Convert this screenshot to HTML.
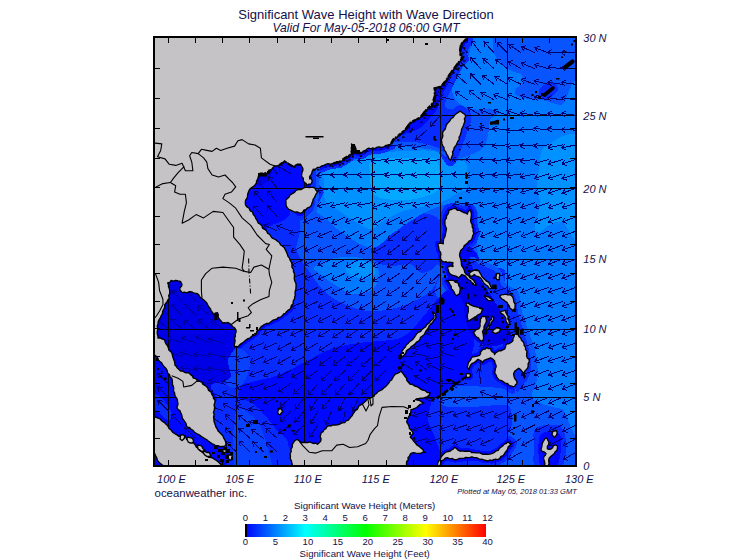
<!DOCTYPE html><html><head><meta charset="utf-8"><title>Significant Wave Height</title><style>html,body{margin:0;padding:0;background:#fff}
#w{position:relative;width:755px;height:560px;overflow:hidden;background:#fff;font-family:"Liberation Sans",sans-serif;color:#14104a}
.t{position:absolute;white-space:nowrap;line-height:1}
.c{transform:translateX(-50%)}
.i{font-style:italic}
</style></head><body><div id="w"><svg width="755" height="560" viewBox="0 0 755 560" style="position:absolute;left:0;top:0"><defs><clipPath id="mc"><rect x="153" y="36" width="424" height="431"/></clipPath><linearGradient id="cb" x1="0" x2="1" y1="0" y2="0"><stop offset="0" stop-color="#0000ff"/><stop offset="0.25" stop-color="#00ffff"/><stop offset="0.5" stop-color="#00ff00"/><stop offset="0.75" stop-color="#ffff00"/><stop offset="1" stop-color="#ff0000"/></linearGradient></defs><g clip-path="url(#mc)"><rect x="153" y="36" width="424" height="431" fill="#082cff"/><g shape-rendering="crispEdges"><path d="M150.0,30.0C221.7,3.3 508.3,-43.3 580.0,30.0C651.7,103.3 592.5,396.7 580.0,470.0C567.5,543.3 517.5,475.0 505.0,470.0C492.5,465.0 503.8,447.5 505.0,440.0C506.2,432.5 511.2,430.3 512.0,425.0C512.8,419.7 512.0,411.3 510.0,408.0C508.0,404.7 506.7,405.2 500.0,405.0C493.3,404.8 479.7,407.0 470.0,407.0C460.3,407.0 446.7,408.2 442.0,405.0C437.3,401.8 438.2,391.2 442.0,388.0C445.8,384.8 455.3,386.0 465.0,386.0C474.7,386.0 491.7,387.3 500.0,388.0C508.3,388.7 513.3,399.7 515.0,390.0C516.7,380.3 522.5,345.0 510.0,330.0C497.5,315.0 451.7,309.2 440.0,300.0C428.3,290.8 441.7,276.3 440.0,275.0C438.3,273.7 435.8,287.0 430.0,292.0C424.2,297.0 412.5,302.0 405.0,305.0C397.5,308.0 390.5,308.9 385.0,310.0C379.5,311.1 376.5,311.6 372.0,311.4C367.5,311.2 363.4,310.6 358.0,309.0C352.6,307.4 345.4,305.1 339.6,302.0C333.8,298.9 328.4,295.5 323.4,290.5C318.4,285.5 313.4,277.4 309.5,272.0C305.6,266.6 302.8,263.4 300.0,258.0C297.2,252.6 295.7,246.1 293.0,239.5C290.3,232.9 286.2,222.8 284.0,218.6C281.8,214.3 285.7,214.6 280.0,214.0C274.3,213.4 256.7,219.0 250.0,215.0C243.3,211.0 256.7,194.2 240.0,190.0C223.3,185.8 165.0,216.7 150.0,190.0C135.0,163.3 78.3,56.7 150.0,30.0Z" fill="#0854ff"/><path d="M372.0,244.0C373.3,239.3 377.8,235.7 382.0,232.0C386.2,228.3 391.5,224.8 397.0,222.0C402.5,219.2 409.8,216.3 415.0,215.0C420.2,213.7 423.8,212.8 428.0,214.0C432.2,215.2 437.7,215.7 440.0,222.0C442.3,228.3 442.7,244.7 442.0,252.0C441.3,259.3 439.3,262.5 436.0,266.0C432.7,269.5 426.3,273.3 422.0,273.0C417.7,272.7 415.3,265.2 410.0,264.0C404.7,262.8 396.0,266.7 390.0,266.0C384.0,265.3 377.0,263.7 374.0,260.0C371.0,256.3 370.7,248.7 372.0,244.0Z" fill="#082cff"/><path d="M319.0,150.0C326.7,147.5 352.7,150.7 365.0,150.0C377.3,149.3 383.7,146.3 393.0,146.0C402.3,145.7 413.2,147.0 421.0,148.0C428.8,149.0 435.2,149.8 440.0,152.0C444.8,154.2 447.5,159.7 450.0,161.0C452.5,162.3 451.7,161.0 455.0,160.0C458.3,159.0 465.3,157.0 470.0,155.0C474.7,153.0 480.0,151.3 483.0,148.0C486.0,144.7 486.8,139.7 488.0,135.0C489.2,130.3 488.3,123.7 490.0,120.0C491.7,116.3 498.0,114.8 498.0,113.0C498.0,111.2 493.2,109.5 490.0,109.0C486.8,108.5 482.5,110.2 479.0,110.0C475.5,109.8 472.0,108.8 469.0,108.0C466.0,107.2 463.6,106.9 461.0,105.0C458.4,103.1 455.0,99.7 453.6,96.6C452.2,93.5 452.1,90.2 452.6,86.4C453.1,82.6 454.6,78.1 456.7,74.0C458.8,69.9 462.8,65.5 465.0,61.7C467.2,57.9 468.5,56.7 470.0,51.4C471.5,46.1 470.4,33.6 474.0,30.0C477.6,26.4 488.3,26.4 491.6,30.0C494.9,33.6 492.3,46.1 493.7,51.4C495.1,56.7 497.3,58.6 500.0,61.7C502.7,64.8 506.4,67.8 510.0,70.0C513.6,72.2 519.3,72.8 521.4,75.0C523.5,77.2 523.4,81.1 522.5,83.3C521.6,85.5 517.5,86.5 516.3,88.4C515.1,90.3 513.6,92.9 515.3,94.6C517.0,96.3 521.6,97.7 526.6,98.7C531.6,99.7 539.2,99.7 545.0,100.7C550.8,101.8 555.7,104.7 561.5,105.0C567.3,105.3 576.9,51.6 580.0,102.8C583.1,154.0 583.0,361.0 580.0,412.0C577.0,463.0 567.7,410.2 562.0,409.0C556.3,407.8 550.7,406.5 546.0,405.0C541.3,403.5 536.3,401.8 534.0,400.0C531.7,398.2 531.5,397.3 532.0,394.0C532.5,390.7 536.2,385.7 537.0,380.0C537.8,374.3 537.8,366.7 537.0,360.0C536.2,353.3 534.0,345.8 532.0,340.0C530.0,334.2 527.0,330.0 525.0,325.0C523.0,320.0 521.2,314.8 520.0,310.0C518.8,305.2 519.3,299.7 518.0,296.0C516.7,292.3 515.0,290.3 512.0,288.0C509.0,285.7 502.8,285.3 500.0,282.0C497.2,278.7 498.3,271.3 495.0,268.0C491.7,264.7 483.0,266.7 480.0,262.0C477.0,257.3 477.3,247.8 477.0,240.0C476.7,232.2 478.8,220.8 478.0,215.0C477.2,209.2 476.7,206.8 472.0,205.0C467.3,203.2 456.0,203.6 450.0,204.0C444.0,204.4 441.2,205.5 436.0,207.5C430.8,209.5 425.8,211.8 418.6,216.0C411.4,220.2 400.8,227.7 393.0,233.0C385.2,238.3 380.4,248.0 372.0,248.0C363.6,248.0 350.2,238.0 342.4,233.0C334.6,228.0 329.9,222.2 325.0,218.0C320.1,213.8 314.0,213.0 313.0,207.5C312.0,202.0 318.0,192.1 319.0,185.0C320.0,177.9 319.0,170.8 319.0,165.0C319.0,159.2 311.3,152.5 319.0,150.0Z" fill="#007aff"/><path d="M314.0,267.0C315.7,264.5 324.2,260.7 330.0,259.0C335.8,257.3 343.2,257.0 349.0,257.0C354.8,257.0 360.3,257.5 365.0,259.0C369.7,260.5 374.8,262.5 377.0,266.0C379.2,269.5 379.2,275.8 378.0,280.0C376.8,284.2 374.3,288.7 370.0,291.0C365.7,293.3 357.8,295.0 352.0,294.0C346.2,293.0 340.3,288.3 335.0,285.0C329.7,281.7 323.5,277.0 320.0,274.0C316.5,271.0 312.3,269.5 314.0,267.0Z" fill="#007aff"/><path d="M346.0,268.0C346.8,265.8 351.3,263.0 355.0,262.0C358.7,261.0 364.7,261.0 368.0,262.0C371.3,263.0 374.2,265.7 375.0,268.0C375.8,270.3 375.5,274.3 373.0,276.0C370.5,277.7 363.8,278.2 360.0,278.0C356.2,277.8 352.3,276.7 350.0,275.0C347.7,273.3 345.2,270.2 346.0,268.0Z" fill="#0092ff"/><path d="M325.0,167.5C328.0,163.8 336.3,164.2 342.0,163.0C347.7,161.8 354.1,161.3 359.0,160.0C363.9,158.7 365.5,156.4 371.5,155.0C377.5,153.6 385.5,152.2 395.0,151.5C404.5,150.8 420.9,150.2 428.6,150.6C436.3,151.0 437.1,152.3 441.0,154.0C444.9,155.7 447.8,159.5 452.0,161.0C456.2,162.5 463.5,158.5 466.0,163.0C468.5,167.5 468.0,183.2 467.0,188.0C466.0,192.8 464.5,189.5 460.0,192.0C455.5,194.5 446.9,200.4 440.0,203.0C433.1,205.6 425.3,206.0 418.6,207.5C411.9,209.0 405.6,209.9 400.0,212.0C394.4,214.1 390.0,217.2 385.0,220.0C380.0,222.8 375.3,229.0 370.0,229.0C364.7,229.0 359.0,223.6 353.0,220.0C347.0,216.4 338.6,210.7 334.0,207.5C329.4,204.3 327.1,204.8 325.4,201.0C323.7,197.2 324.1,190.6 324.0,185.0C323.9,179.4 322.0,171.2 325.0,167.5Z" fill="#0092ff"/><path d="M371.5,160.0C375.7,157.2 385.5,158.3 395.0,158.0C404.5,157.7 421.6,157.5 428.6,158.0C435.6,158.5 435.1,158.2 437.0,161.0C438.9,163.8 439.7,170.4 440.0,175.0C440.3,179.6 441.2,185.0 439.0,188.5C436.8,192.0 432.5,194.1 427.0,196.0C421.5,197.9 413.8,199.7 406.0,200.0C398.2,200.3 386.2,199.6 380.5,198.0C374.8,196.4 373.8,194.4 372.0,190.6C370.2,186.8 370.1,180.1 370.0,175.0C369.9,169.9 367.3,162.8 371.5,160.0Z" fill="#04a8ff"/><path d="M545.0,147.0C551.7,142.8 574.2,124.8 580.0,140.0C585.8,155.2 583.0,224.3 580.0,238.0C577.0,251.7 567.3,224.0 562.0,222.0C556.7,220.0 552.0,224.2 548.0,226.0C544.0,227.8 540.2,233.0 538.0,233.0C535.8,233.0 534.7,230.7 535.0,226.0C535.3,221.3 539.7,211.8 540.0,205.0C540.3,198.2 537.0,191.7 537.0,185.0C537.0,178.3 538.7,171.3 540.0,165.0C541.3,158.7 538.3,151.2 545.0,147.0Z" fill="#0092ff"/><path d="M538.2,455.7L537.5,458.6L538.6,466.8L540.3,470.3L544.5,472.0L549.1,471.9L552.2,470.3L553.8,467.3L554.7,461.2L561.6,454.2L562.9,451.6L563.3,444.3L561.7,441.7L559.5,440.3L562.2,437.0L563.0,434.3L562.2,428.5L560.1,425.7L556.8,424.5L550.5,425.6L547.9,427.9L546.6,431.7L543.6,432.1L540.9,434.4L537.2,440.2L535.0,449.7L535.6,453.0L538.2,455.7ZM434.5,254.6L435.0,261.0L441.2,267.5L444.1,276.1L441.5,279.4L441.9,284.0L452.5,300.6L456.9,301.9L461.2,299.7L460.2,303.2L462.0,309.7L461.2,315.3L461.6,323.7L465.3,327.1L470.4,326.5L467.5,330.4L467.8,334.5L471.1,340.0L475.7,344.4L478.3,345.7L475.3,350.1L468.2,352.4L463.7,359.0L461.4,366.2L461.8,369.7L460.0,373.4L461.0,380.3L464.8,382.9L472.8,382.3L475.7,378.7L476.0,373.4L475.1,370.9L476.8,367.4L477.9,366.7L480.9,368.4L483.7,368.5L489.4,364.8L490.0,366.7L488.8,374.4L493.6,382.9L508.5,391.6L514.3,392.7L517.7,391.9L519.8,389.8L522.7,383.8L526.4,383.6L529.5,381.0L530.4,373.9L533.2,370.3L535.1,360.6L531.3,345.4L528.2,338.7L519.8,329.0L515.5,327.6L516.3,323.6L514.2,317.2L517.9,314.8L520.5,310.9L521.0,308.5L519.4,298.9L516.5,292.3L513.6,289.7L506.3,288.2L497.8,290.2L497.6,285.5L502.3,284.8L505.2,281.2L505.5,272.8L504.5,270.1L500.7,267.5L493.9,268.1L491.2,271.1L490.7,276.8L481.4,265.3L472.5,264.6L468.9,266.2L467.1,261.6L466.2,253.7L476.5,243.0L479.8,233.7L476.7,220.1L477.3,212.2L473.6,204.7L468.6,203.4L464.6,206.4L453.6,202.5L446.5,204.6L444.3,206.3L440.8,213.8L439.0,221.2L440.4,228.7L438.5,237.8L434.3,238.8L431.8,242.7L434.5,254.6ZM433.7,457.7L431.7,464.6L431.7,467.6L433.6,470.6L436.9,472.0L443.3,471.0L445.3,468.8L446.6,464.8L448.0,464.0L454.7,465.8L468.4,463.6L475.1,463.6L482.6,465.9L492.9,466.6L503.9,462.6L509.1,457.4L515.9,447.4L516.9,442.9L514.9,439.4L510.6,436.5L507.7,435.7L504.3,436.7L494.6,445.5L490.1,447.7L484.1,448.3L468.6,445.2L461.9,445.2L457.2,441.9L453.6,441.5L447.2,445.8L440.7,448.6L433.7,457.7ZM162.3,376.1L166.0,380.7L168.9,396.3L171.6,403.1L171.4,410.2L175.4,415.5L181.3,428.8L178.5,428.9L173.4,424.4L168.9,418.6L162.4,413.4L152.9,411.0L150.1,411.7L148.0,413.7L147.0,417.0L147.0,452.6L154.2,466.0L160.8,471.1L163.4,472.0L221.4,472.0L226.1,469.8L227.4,465.3L233.9,464.8L236.5,463.5L238.5,459.4L237.7,453.1L235.7,450.3L232.2,449.0L230.6,438.1L222.3,425.5L219.9,419.8L219.4,412.8L221.0,401.9L217.1,391.5L209.8,381.4L203.0,376.3L197.2,373.4L191.9,367.6L183.5,365.5L180.4,362.3L178.1,353.6L169.6,336.4L167.0,334.2L163.3,333.1L163.9,325.3L171.4,305.8L175.0,300.0L175.3,293.6L177.9,297.0L180.6,298.4L191.1,297.9L193.4,298.6L200.9,305.5L209.4,319.4L213.6,321.0L219.6,328.3L227.2,329.4L229.6,332.0L228.5,337.6L228.8,348.7L230.7,351.6L233.3,352.9L238.4,353.0L241.2,351.9L260.3,337.8L264.6,332.0L267.3,329.8L280.1,324.1L294.0,313.8L298.9,305.6L302.0,287.4L297.8,262.9L291.7,249.1L286.9,242.1L275.1,232.0L263.1,219.5L257.4,208.5L252.1,203.6L251.6,202.1L253.3,196.6L255.8,191.7L261.6,186.2L263.8,179.7L270.6,178.7L277.9,171.4L284.6,168.5L292.1,172.6L295.9,172.8L295.7,175.6L298.1,183.5L293.3,185.1L286.6,190.0L280.3,197.5L280.2,206.5L283.9,212.9L292.4,217.8L301.0,219.4L314.4,211.1L323.6,192.4L322.6,188.6L317.6,182.8L318.0,179.3L316.6,176.2L317.7,174.2L329.2,169.7L341.9,167.5L355.6,158.8L363.7,158.8L369.6,154.6L383.0,153.3L394.2,149.1L398.1,143.5L409.9,133.8L415.0,127.2L424.8,121.7L437.1,107.8L440.9,97.2L440.6,92.8L443.8,92.0L446.1,90.3L462.0,68.0L468.4,61.6L468.8,57.6L466.2,51.5L466.7,47.4L471.5,43.0L472.8,40.4L472.3,35.5L470.6,32.6L466.5,31.0L153.0,31.0L148.4,33.2L147.0,37.0L147.0,355.0L148.1,358.4L152.0,360.9L159.5,370.3L162.3,376.1ZM437.1,131.0L435.7,142.3L438.6,152.5L446.5,164.7L449.7,166.1L453.0,165.6L456.1,162.3L470.8,122.6L471.0,113.9L470.0,111.2L462.5,105.7L460.1,105.2L457.2,106.0L450.6,110.7L445.1,117.1L437.1,131.0ZM426.8,340.1L437.6,325.7L442.1,318.3L441.1,310.8L433.8,306.1L430.3,306.4L427.9,308.1L426.5,311.9L427.6,316.1L410.7,332.1L397.2,347.5L392.9,357.2L393.8,361.8L398.8,364.9L403.3,364.0L412.3,353.9L419.6,347.9L426.8,340.1ZM314.7,437.2L310.0,435.8L303.3,436.5L299.7,433.9L296.8,433.4L294.1,434.4L288.7,439.0L285.2,447.4L284.2,458.8L287.1,468.4L288.9,470.7L292.6,472.0L408.9,471.5L412.2,468.1L414.1,459.3L427.4,458.2L429.9,456.7L431.4,454.2L431.5,451.3L430.2,448.6L418.1,437.0L419.1,434.7L418.9,431.7L413.2,422.0L416.1,413.8L426.8,408.3L429.0,406.3L429.9,402.1L432.3,400.3L435.6,394.7L435.6,390.6L433.0,387.4L425.0,384.7L412.6,377.7L404.2,365.9L401.5,365.0L398.7,365.4L391.0,369.9L380.1,383.2L374.0,387.1L368.8,392.1L363.8,394.1L358.7,399.2L355.3,401.1L345.2,414.5L342.0,417.1L325.2,420.9L323.1,422.1L315.4,431.7L314.7,437.2ZM282.7,402.6L275.2,403.2L272.7,405.6L271.6,414.1L272.9,416.8L276.7,420.0L281.2,420.9L283.8,419.7L287.5,415.4L288.4,410.9L287.1,406.3L285.3,403.9L282.7,402.6Z" fill="#082cff"/><path d="M542.2,454.3L540.5,458.8L542.0,467.7L544.2,469.0L549.6,468.5L550.9,466.7L551.8,459.8L559.8,451.6L560.5,446.0L560.0,444.3L555.4,441.9L551.6,444.3L551.8,441.4L548.2,435.8L546.5,434.8L544.2,435.2L539.9,441.3L538.0,450.1L538.8,452.4L542.2,454.3ZM552.6,428.0L550.3,429.7L549.0,435.5L552.1,439.8L554.5,440.5L556.1,439.7L559.7,435.2L559.5,430.1L558.7,428.5L557.2,427.6L552.6,428.0ZM463.0,377.0L463.7,378.9L465.1,379.9L471.4,379.6L473.0,377.0L472.9,373.1L471.5,371.4L474.5,365.4L477.8,363.0L481.5,365.4L483.5,365.5L490.1,361.2L492.0,362.7L493.1,366.7L491.7,373.7L495.7,380.7L509.6,388.8L514.5,389.7L516.2,389.3L520.0,382.2L517.1,375.7L517.5,373.0L518.5,372.2L519.4,373.1L522.3,380.2L524.2,381.0L526.1,380.4L527.3,378.4L527.5,372.7L530.3,369.5L532.2,362.3L528.4,346.2L525.7,340.2L518.1,331.5L515.7,330.6L513.8,331.5L511.5,335.1L510.3,339.0L503.5,343.0L502.3,346.8L498.2,347.7L495.0,350.3L491.9,345.8L486.9,344.5L484.9,345.0L479.7,348.4L477.3,352.7L471.1,354.2L469.6,355.4L466.1,360.9L464.3,367.4L466.2,371.0L463.4,372.6L463.0,377.0ZM506.1,307.2L498.9,309.0L497.9,310.7L497.8,313.8L498.8,315.7L501.4,317.4L505.4,327.1L508.2,328.5L512.0,327.0L513.2,325.5L513.3,323.7L509.6,312.1L511.6,313.9L513.8,314.2L517.6,310.0L518.0,305.6L516.5,299.7L513.9,293.8L512.2,292.4L505.5,291.2L497.9,293.4L496.6,295.3L497.0,297.5L506.1,307.2ZM436.2,459.4L434.5,466.2L435.3,468.1L437.2,469.0L441.9,468.3L444.1,462.7L447.7,460.8L454.7,462.8L468.2,460.6L475.5,460.6L483.2,462.9L492.4,463.6L501.8,460.5L507.0,455.3L513.6,445.5L514.0,443.5L512.9,441.7L509.4,439.2L506.8,438.8L496.4,447.9L491.0,450.7L484.0,451.4L468.3,448.2L461.0,448.2L456.2,444.8L454.2,444.4L448.8,448.4L442.6,451.0L436.2,459.4ZM471.2,330.0L470.4,332.7L473.0,337.6L477.8,342.2L482.7,343.8L485.1,342.3L486.4,337.6L488.0,336.3L489.6,332.4L491.0,334.7L494.7,336.4L496.5,336.5L502.0,333.5L503.3,328.6L502.0,326.1L497.3,324.6L495.4,324.8L492.8,326.7L496.6,318.8L496.6,316.7L493.5,313.5L491.3,313.6L489.0,315.9L487.4,313.6L484.4,313.3L486.0,308.9L484.8,306.3L465.6,300.2L464.1,301.0L463.2,302.9L465.1,309.4L464.2,315.3L464.7,323.0L466.3,324.3L468.0,324.3L477.5,319.1L476.3,326.4L473.6,327.6L471.2,330.0ZM493.7,279.5L494.4,281.4L495.8,282.4L499.8,282.5L501.6,281.6L502.5,279.5L502.5,273.1L501.6,271.3L499.5,270.4L496.1,270.5L494.6,271.3L493.7,273.1L493.7,279.5ZM485.5,292.5L483.2,292.6L481.5,294.4L481.5,296.2L483.4,300.2L489.5,303.8L494.0,303.3L495.5,302.5L496.3,300.3L495.4,298.2L490.5,294.5L485.5,292.5ZM440.9,240.8L436.5,241.0L434.7,243.3L436.4,251.7L437.5,253.4L437.6,259.3L442.0,264.4L445.3,265.4L444.3,268.3L446.9,274.8L451.8,277.9L445.8,278.5L444.6,279.8L444.2,281.5L454.1,298.1L457.4,298.7L462.3,294.8L463.1,288.5L461.3,282.3L459.6,280.7L462.4,278.3L468.4,282.7L473.0,287.8L476.7,288.4L478.9,286.2L477.5,281.0L475.4,278.4L479.8,282.1L487.2,290.5L492.5,291.0L494.3,290.1L495.2,288.3L494.7,286.4L492.3,282.7L485.5,276.0L480.8,268.4L479.0,267.6L472.5,267.7L467.6,270.8L464.2,262.4L463.2,252.8L467.9,246.7L473.8,241.6L476.8,233.9L473.6,220.3L474.3,212.8L471.9,207.2L470.4,206.4L468.3,206.7L466.0,210.2L453.9,205.5L446.8,208.0L443.7,214.7L441.9,221.7L443.4,228.7L440.9,240.8ZM165.0,374.7L168.8,379.4L171.9,395.6L174.6,402.7L174.2,409.1L178.0,414.0L184.1,427.5L194.8,436.0L206.7,443.5L212.7,447.2L219.0,449.5L221.0,455.2L222.9,456.4L225.2,456.1L226.2,460.4L227.4,462.0L229.1,462.5L234.3,461.4L235.5,459.2L234.7,453.8L233.1,452.2L230.0,452.0L228.0,447.3L228.8,445.1L227.8,439.2L219.6,427.0L217.0,420.5L216.4,412.6L218.0,402.1L214.4,392.9L208.0,383.8L201.4,378.8L195.3,375.8L190.2,370.1L182.0,368.2L177.7,363.8L175.3,354.7L167.0,338.0L165.5,336.8L160.6,335.6L161.0,324.7L168.7,304.4L172.2,298.8L172.3,288.3L171.1,284.2L171.9,283.6L178.5,284.1L176.8,290.1L180.7,295.3L191.4,294.8L195.0,296.0L203.1,303.4L211.4,317.2L213.6,318.0L215.7,317.2L216.8,320.6L221.1,325.6L227.1,325.6L229.3,327.2L232.8,331.1L231.5,337.9L231.5,347.3L232.2,348.9L233.9,349.9L239.5,349.5L245.2,344.6L258.2,335.6L262.4,329.9L265.8,327.1L278.6,321.6L292.0,311.5L296.1,304.6L299.0,286.9L294.9,264.0L292.3,257.1L289.0,250.5L284.6,244.1L279.3,238.9L273.0,234.3L260.7,221.2L254.9,210.3L249.6,205.3L248.5,202.2L250.5,195.4L253.4,189.9L259.2,184.4L261.4,176.8L269.2,176.1L272.3,172.0L276.4,168.7L281.0,167.3L284.6,164.9L293.7,169.9L295.7,169.7L298.7,167.5L299.8,170.2L298.7,175.3L300.6,181.8L303.1,185.2L294.6,187.7L288.1,192.6L283.1,198.8L283.0,205.1L287.1,211.9L293.7,215.1L300.1,216.4L302.1,215.8L312.9,208.3L320.5,192.8L320.2,190.6L317.3,186.3L314.2,184.9L315.0,179.7L313.1,176.6L315.6,171.9L328.6,166.7L333.4,166.5L340.7,164.7L353.7,156.5L354.8,155.0L356.7,156.0L362.6,155.9L368.3,151.8L382.3,150.4L392.3,146.7L395.8,141.5L407.7,131.8L413.0,124.8L422.7,119.6L435.1,105.4L437.9,96.6L437.3,90.4L443.6,88.6L448.5,82.7L459.7,66.0L465.6,60.5L465.9,58.3L463.1,52.0L463.8,46.0L469.8,40.0L468.6,34.8L466.5,34.0L153.0,34.0L150.7,35.1L150.0,37.0L150.0,355.0L150.7,356.9L153.8,358.3L162.0,368.7L165.0,374.7ZM439.8,132.4L438.7,142.1L441.2,150.9L448.3,162.2L451.5,163.0L453.3,161.3L456.5,150.9L463.0,136.4L467.9,121.8L467.5,112.9L461.4,108.4L458.4,108.8L452.4,113.2L447.4,119.1L439.8,132.4ZM424.6,338.0L439.1,317.9L438.5,312.4L433.4,309.2L431.4,309.2L429.7,310.8L429.6,312.6L430.8,315.8L430.2,317.7L412.8,334.2L399.7,349.1L395.9,357.6L396.5,360.4L399.4,361.9L401.9,361.3L410.1,351.7L417.4,345.8L424.6,338.0ZM412.6,456.3L426.8,455.3L428.3,453.9L428.5,451.9L414.2,437.1L416.0,434.7L416.0,432.6L412.1,427.0L409.9,422.0L413.6,411.7L426.1,405.1L426.9,402.4L425.2,400.3L429.7,398.6L432.7,393.9L433.0,392.2L431.5,390.0L423.9,387.4L410.4,379.8L403.4,369.2L401.0,368.0L393.4,371.7L382.0,385.5L375.8,389.5L370.4,394.8L365.5,396.5L360.6,401.6L357.3,403.4L347.4,416.5L343.4,419.9L325.0,424.3L318.1,433.2L317.7,439.8L316.6,440.9L309.7,438.8L302.3,439.6L298.6,436.6L295.5,437.1L290.6,441.6L288.0,448.5L287.2,458.8L290.0,467.5L292.3,469.0L406.6,469.0L409.3,467.3L410.8,458.8L412.6,456.3ZM278.0,405.5L275.2,407.3L274.6,413.6L278.1,417.3L280.6,417.9L285.0,413.7L285.5,411.5L283.4,406.2L278.0,405.5ZM178.4,432.5L171.2,426.4L166.8,420.6L161.9,416.5L153.2,414.0L150.5,415.4L150.0,452.3L156.9,464.4L163.7,469.0L221.4,469.0L223.7,467.9L224.3,465.4L222.3,461.5L214.0,455.6L211.3,450.5L207.8,449.0L203.9,444.2L196.7,442.0L193.7,435.6L187.4,434.0L184.2,431.6L178.4,432.5Z" fill="#0008ff"/><path d="M300.0,160.0C304.7,161.7 321.3,160.3 328.0,160.0C334.7,159.7 336.0,159.2 340.0,158.0C344.0,156.8 347.8,154.3 352.0,153.0C356.2,151.7 358.2,151.2 365.0,150.0C371.8,148.8 383.7,146.3 393.0,146.0C402.3,145.7 413.2,147.0 421.0,148.0C428.8,149.0 435.2,149.8 440.0,152.0C444.8,154.2 448.0,161.3 450.0,161.0C452.0,160.7 453.5,153.3 452.0,150.0C450.5,146.7 442.2,144.8 441.0,141.0C439.8,137.2 442.7,131.8 445.0,127.0C447.3,122.2 454.8,114.8 455.0,112.0C455.2,109.2 448.5,112.0 446.0,110.0C443.5,108.0 447.7,96.7 440.0,100.0C432.3,103.3 415.0,123.3 400.0,130.0C385.0,136.7 366.7,136.7 350.0,140.0C333.3,143.3 308.3,146.7 300.0,150.0C291.7,153.3 295.3,158.3 300.0,160.0Z" fill="#0854ff"/><path d="M300.0,160.0C303.8,162.0 316.3,162.8 323.0,162.0C329.7,161.2 335.2,156.9 340.0,155.0C344.8,153.1 347.7,152.0 352.0,150.5C356.3,149.0 359.3,147.3 366.0,146.0C372.7,144.7 383.8,143.2 392.0,142.5C400.2,141.8 407.7,141.2 415.0,142.0C422.3,142.8 431.2,145.3 436.0,147.0C440.8,148.7 443.2,153.0 444.0,152.0C444.8,151.0 440.8,145.2 441.0,141.0C441.2,136.8 442.7,131.8 445.0,127.0C447.3,122.2 454.8,115.2 455.0,112.0C455.2,108.8 447.5,110.0 446.0,108.0C444.5,106.0 445.0,103.3 446.0,100.0C447.0,96.7 450.0,92.0 452.0,88.0C454.0,84.0 456.0,80.0 458.0,76.0C460.0,72.0 462.3,68.3 464.0,64.0C465.7,59.7 466.7,54.7 468.0,50.0C469.3,45.3 476.7,38.3 472.0,36.0C467.3,33.7 452.0,22.0 440.0,36.0C428.0,50.0 415.0,102.7 400.0,120.0C385.0,137.3 366.7,135.0 350.0,140.0C333.3,145.0 308.3,146.7 300.0,150.0C291.7,153.3 296.2,158.0 300.0,160.0Z" fill="#082cff"/><path d="M300.0,160.0C303.3,161.7 313.3,161.3 320.0,160.0C326.7,158.7 334.7,154.0 340.0,152.0C345.3,150.0 347.7,149.5 352.0,148.0C356.3,146.5 359.3,144.7 366.0,143.0C372.7,141.3 385.5,139.5 392.0,138.0C398.5,136.5 400.3,135.7 405.0,134.0C409.7,132.3 415.8,130.7 420.0,128.0C424.2,125.3 427.0,121.3 430.0,118.0C433.0,114.7 436.3,111.3 438.0,108.0C439.7,104.7 438.7,101.3 440.0,98.0C441.3,94.7 444.0,91.7 446.0,88.0C448.0,84.3 450.0,80.0 452.0,76.0C454.0,72.0 456.3,68.3 458.0,64.0C459.7,59.7 460.3,54.7 462.0,50.0C463.7,45.3 471.7,38.3 468.0,36.0C464.3,33.7 451.3,23.7 440.0,36.0C428.7,48.3 415.0,92.7 400.0,110.0C385.0,127.3 366.7,133.3 350.0,140.0C333.3,146.7 308.3,146.7 300.0,150.0C291.7,153.3 296.7,158.3 300.0,160.0Z" fill="#0008ff"/><path d="M310.0,168.0C311.3,162.3 318.5,163.2 320.0,166.0C321.5,168.8 319.3,178.5 319.0,185.0C318.7,191.5 318.8,200.0 318.0,205.0C317.2,210.0 316.2,212.2 314.0,215.0C311.8,217.8 305.3,224.5 305.0,222.0C304.7,219.5 311.2,209.0 312.0,200.0C312.8,191.0 308.7,173.7 310.0,168.0Z" fill="#0854ff"/><path d="M310.0,168.0C310.7,162.5 315.1,163.3 316.0,167.0C316.9,170.7 315.7,183.7 315.5,190.0C315.3,196.3 315.9,201.0 315.0,205.0C314.1,209.0 312.5,211.5 310.0,214.0C307.5,216.5 299.7,222.3 300.0,220.0C300.3,217.7 310.3,208.7 312.0,200.0C313.7,191.3 309.3,173.5 310.0,168.0Z" fill="#082cff"/><path d="M286.0,200.0C293.7,200.0 293.7,212.0 296.0,215.0C298.3,218.0 299.3,215.2 300.0,218.0C300.7,220.8 300.7,226.7 300.0,232.0C299.3,237.3 296.0,244.5 296.0,250.0C296.0,255.5 298.5,259.2 300.0,265.0C301.5,270.8 305.0,279.2 305.0,285.0C305.0,290.8 302.5,297.5 300.0,300.0C297.5,302.5 295.0,310.0 290.0,300.0C285.0,290.0 276.7,254.2 270.0,240.0C263.3,225.8 247.3,221.7 250.0,215.0C252.7,208.3 278.3,200.0 286.0,200.0Z" fill="#082cff"/><path d="M240.0,158.0C250.7,151.8 291.0,153.3 302.0,158.0C313.0,162.7 307.0,180.7 306.0,186.0C305.0,191.3 299.3,187.7 296.0,190.0C292.7,192.3 287.0,196.2 286.0,200.0C285.0,203.8 290.3,209.7 290.0,213.0C289.7,216.3 287.3,217.8 284.0,220.0C280.7,222.2 273.7,224.0 270.0,226.0C266.3,228.0 265.3,233.8 262.0,232.0C258.7,230.2 254.0,221.2 250.0,215.0C246.0,208.8 239.7,204.5 238.0,195.0C236.3,185.5 229.3,164.2 240.0,158.0Z" fill="#0008ff"/><path d="M255.0,172.0C257.3,169.0 269.8,166.7 272.0,168.0C274.2,169.3 270.3,177.0 268.0,180.0C265.7,183.0 260.2,187.3 258.0,186.0C255.8,184.7 252.7,175.0 255.0,172.0Z" fill="#0000e6"/><path d="M241.0,386.0C243.0,383.0 245.7,383.8 252.0,382.0C258.3,380.2 270.2,378.3 279.0,375.0C287.8,371.7 296.2,366.4 305.0,362.0C313.8,357.6 323.0,351.7 332.0,348.5C341.0,345.3 350.0,344.3 359.0,343.0C368.0,341.7 379.2,341.3 386.0,340.5C392.8,339.7 395.7,339.8 400.0,338.0C404.3,336.2 408.3,333.3 412.0,330.0C415.7,326.7 418.7,322.0 422.0,318.0C425.3,314.0 429.0,309.7 432.0,306.0C435.0,302.3 437.0,298.7 440.0,296.0C443.0,293.3 446.3,289.3 450.0,290.0C453.7,290.7 459.3,295.0 462.0,300.0C464.7,305.0 464.0,313.3 466.0,320.0C468.0,326.7 473.3,333.3 474.0,340.0C474.7,346.7 471.3,354.0 470.0,360.0C468.7,366.0 469.3,371.3 466.0,376.0C462.7,380.7 455.0,384.3 450.0,388.0C445.0,391.7 441.0,396.0 436.0,398.0C431.0,400.0 424.3,394.7 420.0,400.0C415.7,405.3 410.8,421.7 410.0,430.0C409.2,438.3 416.7,443.3 415.0,450.0C413.3,456.7 420.8,466.7 400.0,470.0C379.2,473.3 308.8,475.0 290.0,470.0C271.2,465.0 291.7,448.3 287.0,440.0C282.3,431.7 269.8,426.7 262.0,420.0C254.2,413.3 243.5,405.7 240.0,400.0C236.5,394.3 239.0,389.0 241.0,386.0Z" fill="#0008ff"/><path d="M215.0,402.0C217.3,398.3 222.5,398.2 228.0,398.0C233.5,397.8 242.3,398.7 248.0,401.0C253.7,403.3 257.5,407.5 262.0,412.0C266.5,416.5 270.7,422.5 275.0,428.0C279.3,433.5 285.2,438.0 288.0,445.0C290.8,452.0 304.3,465.8 292.0,470.0C279.7,474.2 225.7,475.0 214.0,470.0C202.3,465.0 222.0,448.3 222.0,440.0C222.0,431.7 215.2,426.3 214.0,420.0C212.8,413.7 212.7,405.7 215.0,402.0Z" fill="#082cff"/><path d="M236.0,412.0C238.7,403.0 247.7,413.0 252.0,416.0C256.3,419.0 259.3,424.3 262.0,430.0C264.7,435.7 266.7,443.3 268.0,450.0C269.3,456.7 275.3,466.7 270.0,470.0C264.7,473.3 241.7,479.7 236.0,470.0C230.3,460.3 233.3,421.0 236.0,412.0Z" fill="#0842ff"/><path d="M236.0,348.0C238.3,347.5 243.2,348.0 244.0,352.0C244.8,356.0 242.0,366.0 241.0,372.0C240.0,378.0 240.2,385.7 238.0,388.0C235.8,390.3 230.0,389.3 228.0,386.0C226.0,382.7 225.7,373.2 226.0,368.0C226.3,362.8 228.3,358.3 230.0,355.0C231.7,351.7 233.7,348.5 236.0,348.0Z" fill="#082cff"/><path d="M236.0,349.0C239.0,348.0 243.7,349.8 246.0,352.0C248.3,354.2 249.8,358.0 250.0,362.0C250.2,366.0 248.7,372.0 247.0,376.0C245.3,380.0 243.0,384.2 240.0,386.0C237.0,387.8 231.5,389.3 229.0,387.0C226.5,384.7 225.2,376.8 225.0,372.0C224.8,367.2 226.2,361.8 228.0,358.0C229.8,354.2 233.0,350.0 236.0,349.0Z" fill="#0842ff"/><path d="M150.0,275.0C158.3,264.2 189.2,270.8 200.0,275.0C210.8,279.2 209.0,291.2 215.0,300.0C221.0,308.8 232.8,320.0 236.0,328.0C239.2,336.0 235.3,342.7 234.0,348.0C232.7,353.3 228.7,355.0 228.0,360.0C227.3,365.0 232.7,374.0 230.0,378.0C227.3,382.0 215.7,382.0 212.0,384.0C208.3,386.0 215.0,394.0 208.0,390.0C201.0,386.0 179.7,368.3 170.0,360.0C160.3,351.7 153.3,354.2 150.0,340.0C146.7,325.8 141.7,285.8 150.0,275.0Z" fill="#0000e6"/><path d="M150.0,350.0C151.7,332.3 155.8,352.5 160.0,360.0C164.2,367.5 170.8,384.2 175.0,395.0C179.2,405.8 176.7,416.3 185.0,425.0C193.3,433.7 218.8,440.2 225.0,447.0C231.2,453.8 234.5,462.8 222.0,466.0C209.5,469.2 162.0,485.3 150.0,466.0C138.0,446.7 148.3,367.7 150.0,350.0Z" fill="#0008ff"/><path d="M154.0,395.0C155.3,393.3 159.0,394.8 162.0,398.0C165.0,401.2 171.0,410.3 172.0,414.0C173.0,417.7 170.3,420.3 168.0,420.0C165.7,419.7 160.3,414.0 158.0,412.0C155.7,410.0 154.7,410.8 154.0,408.0C153.3,405.2 152.7,396.7 154.0,395.0Z" fill="#082cff"/><path d="M448.0,262.0C451.3,258.2 463.3,258.3 470.0,262.0C476.7,265.7 483.0,278.3 488.0,284.0C493.0,289.7 497.2,291.3 500.0,296.0C502.8,300.7 503.7,306.7 505.0,312.0C506.3,317.3 506.5,324.3 508.0,328.0C509.5,331.7 515.3,331.2 514.0,334.0C512.7,336.8 505.0,343.2 500.0,345.0C495.0,346.8 488.3,346.2 484.0,345.0C479.7,343.8 477.0,341.8 474.0,338.0C471.0,334.2 468.0,328.3 466.0,322.0C464.0,315.7 464.7,306.2 462.0,300.0C459.3,293.8 452.3,291.3 450.0,285.0C447.7,278.7 444.7,265.8 448.0,262.0Z" fill="#0000e6"/><path d="M405.0,400.0C410.0,388.7 426.2,394.7 430.0,398.0C433.8,401.3 427.0,413.0 428.0,420.0C429.0,427.0 434.0,432.3 436.0,440.0C438.0,447.7 446.0,461.7 440.0,466.0C434.0,470.3 405.8,477.0 400.0,466.0C394.2,455.0 400.0,411.3 405.0,400.0Z" fill="#0008ff"/><path d="M536.0,428.0C540.3,424.8 555.0,423.2 560.0,426.0C565.0,428.8 566.0,437.7 566.0,445.0C566.0,452.3 565.0,465.8 560.0,470.0C555.0,474.2 540.3,474.2 536.0,470.0C531.7,465.8 534.0,452.0 534.0,445.0C534.0,438.0 531.7,431.2 536.0,428.0Z" fill="#082cff"/><path d="M540.0,436.0C542.8,430.0 554.5,430.0 558.0,432.0C561.5,434.0 561.3,442.0 561.0,448.0C560.7,454.0 559.3,464.7 556.0,468.0C552.7,471.3 543.7,473.3 541.0,468.0C538.3,462.7 537.2,442.0 540.0,436.0Z" fill="#0008ff"/><path d="M540.0,88.0C542.0,85.5 549.0,81.7 552.0,82.0C555.0,82.3 558.7,87.2 558.0,90.0C557.3,92.8 551.0,97.8 548.0,99.0C545.0,100.2 541.3,98.8 540.0,97.0C538.7,95.2 538.0,90.5 540.0,88.0Z" fill="#082cff"/><path d="M459.0,250.0C460.3,247.5 466.8,246.0 470.0,247.0C473.2,248.0 476.3,252.8 478.0,256.0C479.7,259.2 481.3,264.0 480.0,266.0C478.7,268.0 473.0,268.7 470.0,268.0C467.0,267.3 463.8,265.0 462.0,262.0C460.2,259.0 457.7,252.5 459.0,250.0Z" fill="#0008ff"/><path d="M470.0,262.0C465.8,250.7 480.0,260.7 485.0,262.0C490.0,263.3 496.5,266.3 500.0,270.0C503.5,273.7 503.0,280.3 506.0,284.0C509.0,287.7 515.3,287.3 518.0,292.0C520.7,296.7 520.3,305.7 522.0,312.0C523.7,318.3 526.0,323.7 528.0,330.0C530.0,336.3 533.0,343.0 534.0,350.0C535.0,357.0 535.0,365.0 534.0,372.0C533.0,379.0 531.2,388.7 528.0,392.0C524.8,395.3 518.0,402.3 515.0,392.0C512.0,381.7 517.5,351.7 510.0,330.0C502.5,308.3 474.2,273.3 470.0,262.0Z" fill="#0854ff"/><path d="M470.0,262.0C465.3,251.3 477.7,264.3 482.0,266.0C486.3,267.7 492.7,268.7 496.0,272.0C499.3,275.3 499.0,282.3 502.0,286.0C505.0,289.7 511.3,289.7 514.0,294.0C516.7,298.3 516.5,306.0 518.0,312.0C519.5,318.0 521.2,323.7 523.0,330.0C524.8,336.3 527.7,343.3 529.0,350.0C530.3,356.7 531.8,364.3 531.0,370.0C530.2,375.7 526.7,381.0 524.0,384.0C521.3,387.0 517.3,397.0 515.0,388.0C512.7,379.0 517.5,351.0 510.0,330.0C502.5,309.0 474.7,272.7 470.0,262.0Z" fill="#082cff"/><path d="M455.0,110.0C458.7,102.7 465.8,109.7 468.0,112.0C470.2,114.3 468.8,119.3 468.0,124.0C467.2,128.7 465.2,134.7 463.0,140.0C460.8,145.3 457.2,152.2 455.0,156.0C452.8,159.8 451.5,163.0 450.0,163.0C448.5,163.0 445.2,164.8 446.0,156.0C446.8,147.2 451.3,117.3 455.0,110.0Z" fill="#082cff"/></g><path d="M168.3,36V467M236.5,36V467M304.5,36V467M372.5,36V467M440.6,36V467M507.6,36V467M153,115.3H577M153,188.3H577M153,259.1H577M153,329.1H577M153,397.2H577" stroke="#000010" stroke-width="1.2" fill="none" shape-rendering="crispEdges"/><path d="M168.3,410.9L157.7,400.4M158.5,405.3L157.7,400.4L162.6,401.1M168.3,397.2L157.7,386.6M158.5,391.6L157.7,386.6L162.6,387.4M168.3,383.6L157.6,373.1M158.4,378.1L157.6,373.1L162.5,373.9M181.9,424.7L171.3,414.1M172.1,419.0L171.3,414.1L176.3,414.9M195.6,438.4L184.8,428.0M185.7,432.9L184.8,428.0L189.8,428.7M222.9,424.7L210.4,416.3M212.1,421.0L210.4,416.3L215.4,416.1M222.9,410.9L208.9,405.4M211.6,409.6L208.9,405.4L213.8,404.2M222.9,397.2L208.7,392.1M211.6,396.3L208.7,392.1L213.5,390.7M236.5,452.1L225.7,441.7M226.6,446.6L225.7,441.7L230.6,442.4M236.5,438.4L225.1,428.6M226.3,433.5L225.1,428.6L230.1,429.0M236.5,424.7L225.2,414.8M226.3,419.6L225.2,414.8L230.2,415.2M236.5,410.9L223.2,404.0M225.4,408.5L223.2,404.0L228.1,403.3M236.5,397.2L222.3,392.3M225.2,396.4L222.3,392.3L227.1,390.8M236.5,383.6L221.7,381.5M225.2,385.0L221.7,381.5L226.1,379.2M250.1,452.1L239.5,441.5M240.3,446.4L239.5,441.5L244.4,442.3M250.1,438.4L238.8,428.6M239.9,433.4L238.8,428.6L243.8,429.0M250.1,424.7L238.5,415.2M239.8,420.0L238.5,415.2L243.5,415.5M250.1,410.9L236.0,405.8M238.8,410.0L236.0,405.8L240.8,404.4M250.1,397.2L235.6,401.2M240.3,402.9L235.6,401.2L238.8,397.3M250.1,383.6L235.8,388.1M240.5,389.7L235.8,388.1L238.8,384.1M250.1,370.1L235.3,372.5M239.8,374.7L235.3,372.5L238.8,368.9M250.1,356.4L235.5,359.9M240.1,361.8L235.5,359.9L238.8,356.1M263.7,452.1L252.7,441.9M253.6,446.8L252.7,441.9L257.6,442.5M263.7,438.4L251.5,429.7M253.1,434.4L251.5,429.7L256.5,429.6M263.7,424.7L249.0,421.8M252.4,425.5L249.0,421.8L253.5,419.7M263.7,410.9L248.9,408.5M252.4,412.0L248.9,408.5L253.4,406.2M263.7,397.2L249.4,401.7M254.1,403.3L249.4,401.7L252.4,397.7M263.7,383.6L249.5,388.6M254.3,390.0L249.5,388.6L252.4,384.5M263.7,370.1L249.8,375.6M254.6,376.8L249.8,375.6L252.4,371.4M263.7,356.4L250.1,362.8M255.0,363.7L250.1,362.8L252.5,358.4M263.7,342.8L249.8,348.5M254.7,349.7L249.8,348.5L252.4,344.2M263.7,216.9L253.1,206.2M253.9,211.2L253.1,206.2L258.1,207.0M263.7,202.6L254.1,191.1M254.4,196.1L254.1,191.1L258.9,192.3M277.3,452.1L266.1,442.1M267.2,447.0L266.1,442.1L271.1,442.6M277.3,438.4L266.0,428.5M267.1,433.4L266.0,428.5L271.0,429.0M277.3,424.7L262.3,423.5M266.2,426.8L262.3,423.5L266.6,420.9M277.3,397.2L263.6,403.4M268.5,404.4L263.6,403.4L266.1,399.0M277.3,383.6L263.3,388.9M268.1,390.2L263.3,388.9L266.0,384.7M277.3,370.1L263.5,375.8M268.3,377.0L263.5,375.8L266.1,371.6M277.3,356.4L263.6,362.6M268.5,363.6L263.6,362.6L266.1,358.3M277.3,342.8L263.5,348.6M268.4,349.8L263.5,348.6L266.1,344.3M277.3,329.1L263.2,334.2M268.0,335.6L263.2,334.2L266.0,330.0M277.3,231.0L263.7,224.8M266.1,229.1L263.7,224.8L268.6,223.8M277.3,216.9L267.4,205.6M267.9,210.6L267.4,205.6L272.3,206.7M277.3,202.6L267.6,191.2M268.0,196.2L267.6,191.2L272.5,192.4M277.3,188.3L268.1,176.4M268.3,181.4L268.1,176.4L272.9,177.8M277.3,173.9L267.8,162.3M268.1,167.3L267.8,162.3L272.6,163.6M290.9,424.7L278.7,433.4M283.7,433.4L278.7,433.4L280.3,428.6M290.9,410.9L280.3,421.5M285.2,420.8L280.3,421.5L281.1,416.6M290.9,397.2L279.9,407.3M284.8,406.8L279.9,407.3L280.8,402.4M290.9,383.6L278.3,391.8M283.3,392.1L278.3,391.8L280.1,387.1M290.9,370.1L277.7,377.3M282.7,377.9L277.7,377.3L279.9,372.7M290.9,356.4L277.8,363.7M282.8,364.3L277.8,363.7L279.9,359.2M290.9,342.8L277.6,349.7M282.5,350.4L277.6,349.7L279.8,345.2M290.9,329.1L277.3,335.3M282.2,336.3L277.3,335.3L279.7,331.0M290.9,245.1L275.9,246.0M280.1,248.7L275.9,246.0L279.8,242.8M290.9,231.0L276.8,225.9M279.6,230.1L276.8,225.9L281.6,224.5M290.9,173.9L278.1,166.1M280.0,170.7L278.1,166.1L283.1,165.7M304.5,424.7L293.4,434.8M298.4,434.2L293.4,434.8L294.4,429.9M304.5,410.9L294.8,422.4M299.7,421.2L294.8,422.4L295.2,417.4M304.5,397.2L295.5,409.2M300.3,407.7L295.5,409.2L295.6,404.2M304.5,383.6L293.7,394.1M298.7,393.4L293.7,394.1L294.6,389.1M304.5,370.1L291.6,377.7M296.6,378.2L291.6,377.7L293.6,373.1M304.5,356.4L291.5,363.9M296.5,364.5L291.5,363.9L293.5,359.4M304.5,342.8L291.4,350.2M296.4,350.7L291.4,350.2L293.5,345.6M304.5,329.1L290.9,335.5M295.8,336.4L290.9,335.5L293.3,331.1M304.5,315.2L290.9,321.5M295.8,322.5L290.9,321.5L293.3,317.2M304.5,301.3L290.9,307.5M295.8,308.5L290.9,307.5L293.3,303.2M304.5,287.3L290.7,293.1M295.6,294.3L290.7,293.1L293.3,288.8M304.5,273.2L290.5,278.7M295.4,279.9L290.5,278.7L293.2,274.4M304.5,259.1L290.9,265.5M295.8,266.4L290.9,265.5L293.3,261.1M304.5,245.1L291.2,252.1M296.2,252.8L291.2,252.1L293.4,247.6M304.5,231.0L289.7,233.2M294.1,235.5L289.7,233.2L293.2,229.7M318.1,424.7L309.6,437.0M314.3,435.4L309.6,437.0L309.5,432.1M318.1,410.9L310.5,423.9M315.1,421.9L310.5,423.9L310.0,418.9M318.1,397.2L310.4,410.1M315.0,408.1L310.4,410.1L309.9,405.1M318.1,383.6L308.4,395.0M313.2,393.9L308.4,395.0L308.7,390.1M318.1,370.1L306.0,379.0M311.0,378.9L306.0,379.0L307.5,374.2M318.1,356.4L305.2,364.0M310.2,364.5L305.2,364.0L307.2,359.5M318.1,342.8L305.1,350.2M310.0,350.7L305.1,350.2L307.1,345.6M318.1,329.1L304.6,335.7M309.5,336.5L304.6,335.7L307.0,331.2M318.1,315.2L304.5,321.5M309.4,322.5L304.5,321.5L306.9,317.2M318.1,301.3L304.5,307.6M309.4,308.5L304.5,307.6L306.9,303.2M318.1,287.3L304.5,293.6M309.4,294.5L304.5,293.6L306.9,289.2M318.1,273.2L304.4,279.3M309.3,280.3L304.4,279.3L306.9,275.0M318.1,259.1L304.4,265.2M309.3,266.2L304.4,265.2L306.9,260.9M318.1,245.1L304.5,251.4M309.4,252.3L304.5,251.4L306.9,247.0M318.1,231.0L304.2,236.8M309.1,237.9L304.2,236.8L306.9,232.5M318.1,216.9L304.1,222.4M309.0,223.6L304.1,222.4L306.8,218.1M331.7,410.9L325.9,424.8M330.2,422.2L325.9,424.8L324.8,419.9M331.7,397.2L322.0,408.6M326.9,407.5L322.0,408.6L322.4,403.6M331.7,383.6L321.7,394.8M326.6,393.8L321.7,394.8L322.2,389.8M331.7,370.1L321.1,380.6M326.0,379.9L321.1,380.6L321.9,375.7M331.7,356.4L319.5,365.2M324.5,365.2L319.5,365.2L321.1,360.4M331.7,342.8L319.0,350.8M324.0,351.1L319.0,350.8L320.9,346.2M331.7,329.1L318.6,336.4M323.6,337.0L318.6,336.4L320.7,331.9M331.7,315.2L318.2,321.8M323.1,322.6L318.2,321.8L320.6,317.4M331.7,301.3L318.1,307.6M323.0,308.6L318.1,307.6L320.5,303.2M331.7,287.3L318.1,293.6M323.0,294.6L318.1,293.6L320.5,289.2M331.7,273.2L318.1,279.5M323.0,280.5L318.1,279.5L320.5,275.2M331.7,259.1L318.0,265.3M322.9,266.3L318.0,265.3L320.5,260.9M331.7,245.1L318.0,251.1M322.8,252.2L318.0,251.1L320.5,246.8M331.7,231.0L317.9,236.8M322.8,238.0L317.9,236.8L320.5,232.6M331.7,216.9L317.2,220.7M321.9,222.5L317.2,220.7L320.4,216.8M331.7,202.6L317.1,206.0M321.7,208.0L317.1,206.0L320.4,202.3M331.7,188.3L317.0,191.1M321.5,193.2L317.0,191.1L320.4,187.4M331.7,173.9L316.8,175.6M321.1,178.0L316.8,175.6L320.5,172.2M345.3,410.9L342.2,425.6M345.9,422.3L342.2,425.6L340.1,421.0M345.3,397.2L339.0,410.8M343.3,408.4L339.0,410.8L338.0,405.9M345.3,383.6L335.6,395.1M340.5,393.9L335.6,395.1L336.0,390.1M345.3,370.1L334.6,380.6M339.6,379.8L334.6,380.6L335.4,375.6M345.3,356.4L333.3,365.4M338.3,365.3L333.3,365.4L334.8,360.6M345.3,342.8L333.0,351.4M338.0,351.5L333.0,351.4L334.6,346.7M345.3,329.1L332.8,337.5M337.8,337.6L332.8,337.5L334.6,332.8M345.3,315.2L332.2,322.5M337.1,323.1L332.2,322.5L334.3,317.9M345.3,301.3L331.8,307.7M336.7,308.6L331.8,307.7L334.1,303.3M345.3,287.3L331.7,293.6M336.6,294.6L331.7,293.6L334.1,289.2M345.3,273.2L331.8,279.7M336.7,280.6L331.8,279.7L334.1,275.3M345.3,259.1L332.2,266.4M337.1,267.0L332.2,266.4L334.3,261.8M345.3,245.1L332.3,252.6M337.3,253.1L332.3,252.6L334.3,248.0M345.3,231.0L332.0,238.0M337.0,238.7L332.0,238.0L334.2,233.5M345.3,216.9L331.9,223.7M336.9,224.5L331.9,223.7L334.2,219.2M345.3,202.6L330.8,206.4M335.4,208.2L330.8,206.4L334.0,202.5M345.3,188.3L330.4,189.7M334.7,192.3L330.4,189.7L334.1,186.4M345.3,173.9L330.4,175.2M334.7,177.8L330.4,175.2L334.1,172.0M358.9,397.2L352.9,411.0M357.2,408.4L352.9,411.0L351.8,406.1M358.9,383.6L348.8,394.8M353.7,393.7L348.8,394.8L349.4,389.8M358.9,370.1L348.2,380.5M353.1,379.8L348.2,380.5L349.0,375.6M358.9,356.4L346.9,365.5M351.9,365.4L346.9,365.5L348.4,360.7M358.9,342.8L346.6,351.4M351.6,351.5L346.6,351.4L348.2,346.7M358.9,329.1L346.6,337.7M351.6,337.8L346.6,337.7L348.2,332.9M358.9,315.2L346.1,323.1M351.1,323.4L346.1,323.1L348.0,318.4M358.9,301.3L345.7,308.4M350.7,309.1L345.7,308.4L347.9,303.9M358.9,287.3L345.7,294.3M350.6,295.0L345.7,294.3L347.8,289.8M358.9,273.2L345.7,280.4M350.7,281.0L345.7,280.4L347.9,275.9M358.9,259.1L346.1,266.9M351.1,267.3L346.1,266.9L348.0,262.3M358.9,245.1L346.2,253.0M351.2,253.4L346.2,253.0L348.1,248.4M358.9,231.0L345.8,238.3M350.8,238.9L345.8,238.3L347.9,233.8M358.9,216.9L345.1,222.6M349.9,223.8L345.1,222.6L347.7,218.4M358.9,202.6L344.2,205.8M348.8,207.8L344.2,205.8L347.6,202.1M358.9,188.3L344.0,190.2M348.4,192.6L344.0,190.2L347.7,186.8M358.9,173.9L344.0,175.3M348.3,177.8L344.0,175.3L347.7,172.0M372.5,383.6L361.9,394.2M366.8,393.5L361.9,394.2L362.7,389.3M372.5,370.1L361.9,380.7M366.8,379.9L361.9,380.7L362.7,375.7M372.5,356.4L361.4,366.5M366.4,366.0L361.4,366.5L362.4,361.6M372.5,342.8L360.3,351.5M365.3,351.5L360.3,351.5L361.9,346.7M372.5,329.1L360.1,337.6M365.1,337.7L360.1,337.6L361.8,332.9M372.5,315.2L359.7,323.1M364.7,323.5L359.7,323.1L361.6,318.5M372.5,301.3L359.7,309.1M364.7,309.5L359.7,309.1L361.6,304.5M372.5,287.3L359.7,295.2M364.7,295.5L359.7,295.2L361.6,290.5M372.5,273.2L359.7,281.0M364.6,281.4L359.7,281.0L361.6,276.3M372.5,259.1L359.6,266.8M364.6,267.2L359.6,266.8L361.6,262.2M372.5,245.1L359.7,252.8M364.6,253.3L359.7,252.8L361.6,248.2M372.5,231.0L359.3,238.1M364.2,238.8L359.3,238.1L361.5,233.6M372.5,216.9L358.5,222.3M363.3,223.5L358.5,222.3L361.2,218.1M372.5,202.6L357.7,205.3M362.2,207.4L357.7,205.3L361.2,201.7M372.5,188.3L357.7,190.6M362.1,192.9L357.7,190.6L361.2,187.1M372.5,173.9L357.6,175.2M361.8,177.8L357.6,175.2L361.3,171.9M372.5,159.4L357.6,160.8M361.9,163.4L357.6,160.8L361.3,157.5M386.1,370.1L375.2,380.4M380.2,379.7L375.2,380.4L376.1,375.5M386.1,356.4L374.6,366.0M379.6,365.7L374.6,366.0L375.8,361.2M386.1,342.8L373.7,351.2M378.7,351.3L373.7,351.2L375.4,346.5M386.1,329.1L373.5,337.2M378.5,337.5L373.5,337.2L375.3,332.5M386.1,315.2L373.3,323.0M378.3,323.4L373.3,323.0L375.2,318.4M386.1,301.3L373.4,309.2M378.4,309.5L373.4,309.2L375.3,304.5M386.1,287.3L373.4,295.2M378.4,295.6L373.4,295.2L375.3,290.6M386.1,273.2L373.4,281.1M378.4,281.5L373.4,281.1L375.3,276.5M386.1,259.1L373.3,266.8M378.3,267.3L373.3,266.8L375.2,262.2M386.1,245.1L373.2,252.7M378.2,253.2L373.2,252.7L375.2,248.1M386.1,231.0L373.2,238.7M378.2,239.1L373.2,238.7L375.2,234.1M386.1,216.9L373.4,224.8M378.4,225.1L373.4,224.8L375.3,220.1M386.1,202.6L372.0,207.7M376.8,209.1L372.0,207.7L374.8,203.5M386.1,188.3L371.2,190.0M375.6,192.5L371.2,190.0L374.9,186.6M386.1,173.9L371.1,174.7M375.3,177.4L371.1,174.7L375.0,171.6M386.1,159.4L371.2,161.3M375.6,163.7L371.2,161.3L374.9,157.9M399.7,342.8L387.2,350.9M392.1,351.2L387.2,350.9L388.9,346.3M399.7,329.1L387.3,337.4M392.3,337.6L387.3,337.4L389.0,332.8M399.7,315.2L387.0,323.1M392.0,323.5L387.0,323.1L388.9,318.5M399.7,301.3L387.0,309.2M392.0,309.5L387.0,309.2L388.9,304.6M399.7,287.3L387.1,295.3M392.1,295.6L387.1,295.3L388.9,290.6M399.7,273.2L387.3,281.6M392.3,281.7L387.3,281.6L389.0,276.9M399.7,259.1L387.5,267.7M392.5,267.8L387.5,267.7L389.1,263.0M399.7,245.1L387.8,254.1M392.8,254.0L387.8,254.1L389.2,249.4M399.7,231.0L387.9,240.2M392.9,240.0L387.9,240.2L389.3,235.4M399.7,216.9L386.6,224.0M391.5,224.7L386.6,224.0L388.7,219.5M399.7,202.6L385.2,206.4M389.9,208.3L385.2,206.4L388.4,202.6M399.7,188.3L384.9,190.6M389.4,192.9L384.9,190.6L388.5,187.1M399.7,173.9L384.8,175.6M389.2,178.1L384.8,175.6L388.5,172.2M399.7,159.4L384.9,161.4M389.3,163.8L384.9,161.4L388.5,158.0M399.7,144.8L384.8,146.4M389.2,148.9L384.8,146.4L388.5,143.1M413.4,370.1L400.6,362.2M402.5,366.8L400.6,362.2L405.6,361.8M413.4,356.4L398.4,356.2M402.4,359.2L398.4,356.2L402.4,353.3M413.4,315.2L400.7,323.2M405.6,323.5L400.7,323.2L402.5,318.5M413.4,301.3L400.8,309.5M405.8,309.7L400.8,309.5L402.6,304.8M413.4,287.3L401.9,296.9M406.9,296.6L401.9,296.9L403.1,292.1M413.4,273.2L402.5,283.6M407.4,282.9L402.5,283.6L403.4,278.6M413.4,259.1L402.1,269.0M407.1,268.5L402.1,269.0L403.2,264.1M413.4,245.1L402.0,254.9M407.0,254.5L402.0,254.9L403.1,250.0M413.4,231.0L402.2,241.0M407.2,240.5L402.2,241.0L403.2,236.1M413.4,216.9L399.8,223.4M404.8,224.3L399.8,223.4L402.2,219.0M413.4,202.6L398.6,205.2M403.1,207.4L398.6,205.2L402.1,201.6M413.4,188.3L398.6,190.8M403.1,193.0L398.6,190.8L402.1,187.2M413.4,173.9L398.5,175.8M402.9,178.2L398.5,175.8L402.1,172.3M413.4,159.4L398.5,161.3M402.9,163.7L398.5,161.3L402.1,157.9M413.4,144.8L398.5,147.0M402.9,149.3L398.5,147.0L402.1,143.5M427.0,438.4L412.6,442.6M417.3,444.3L412.6,442.6L415.6,438.6M427.0,424.7L412.9,429.8M417.7,431.2L412.9,429.8L415.7,425.7M427.0,410.9L412.8,415.8M417.6,417.3L412.8,415.8L415.7,411.7M427.0,383.6L414.3,375.6M416.2,380.2L414.3,375.6L419.3,375.3M427.0,370.1L415.0,361.1M416.5,365.8L415.0,361.1L420.0,361.1M427.0,356.4L412.3,353.2M415.6,356.9L412.3,353.2L416.9,351.2M427.0,342.8L413.0,348.3M417.9,349.5L413.0,348.3L415.7,344.0M427.0,301.3L414.3,309.3M419.3,309.6L414.3,309.3L416.2,304.7M427.0,287.3L416.1,297.6M421.0,296.9L416.1,297.6L417.0,292.6M427.0,273.2L416.4,283.8M421.3,283.0L416.4,283.8L417.2,278.9M427.0,259.1L416.2,269.5M421.1,268.8L416.2,269.5L417.0,264.6M427.0,245.1L415.4,254.6M420.4,254.3L415.4,254.6L416.6,249.8M427.0,231.0L415.4,240.6M420.4,240.3L415.4,240.6L416.7,235.7M427.0,216.9L413.4,223.1M418.3,224.1L413.4,223.1L415.8,218.8M427.0,202.6L412.3,205.6M416.8,207.6L412.3,205.6L415.7,201.9M427.0,188.3L412.2,190.6M416.6,192.9L412.2,190.6L415.7,187.1M427.0,173.9L412.1,175.5M416.4,178.0L412.1,175.5L415.8,172.2M427.0,159.4L412.1,161.3M416.5,163.7L412.1,161.3L415.7,157.8M427.0,144.8L412.3,148.0M416.9,150.0L412.3,148.0L415.7,144.3M427.0,130.1L415.7,140.0M420.7,139.5L415.7,140.0L416.8,135.1M440.6,438.4L426.2,442.4M430.8,444.2L426.2,442.4L429.3,438.5M440.6,424.7L426.4,429.4M431.1,430.9L426.4,429.4L429.3,425.4M440.6,410.9L426.3,415.5M431.0,417.0L426.3,415.5L429.3,411.4M440.6,397.2L425.7,398.9M430.0,401.3L425.7,398.9L429.4,395.5M440.6,383.6L426.5,378.5M429.3,382.6L426.5,378.5L431.3,377.1M440.6,370.1L426.8,364.1M429.4,368.4L426.8,364.1L431.7,363.0M440.6,356.4L425.9,359.4M430.4,361.5L425.9,359.4L429.3,355.7M440.6,342.8L426.1,346.6M430.7,348.4L426.1,346.6L429.3,342.7M440.6,329.1L426.4,333.8M431.1,335.3L426.4,333.8L429.3,329.7M440.6,301.3L426.9,307.4M431.8,308.4L426.9,307.4L429.4,303.1M440.6,287.3L428.1,295.6M433.1,295.8L428.1,295.6L429.9,290.9M440.6,273.2L429.6,283.4M434.6,282.8L429.6,283.4L430.6,278.5M440.6,202.6L425.9,205.5M430.4,207.6L425.9,205.5L429.3,201.9M440.6,188.3L425.7,189.8M430.0,192.3L425.7,189.8L429.4,186.5M440.6,173.9L425.7,175.1M429.9,177.7L425.7,175.1L429.4,171.9M440.6,159.4L425.8,161.7M430.2,164.0L425.8,161.7L429.3,158.1M440.6,115.3L430.5,126.4M435.4,125.4L430.5,126.4L431.1,121.4M440.6,99.9L429.3,109.8M434.3,109.3L429.3,109.8L430.4,104.9M454.0,438.4L439.7,442.9M444.5,444.5L439.7,442.9L442.7,438.9M454.0,424.7L439.7,429.3M444.5,430.9L439.7,429.3L442.7,425.3M454.0,410.9L439.7,415.5M444.5,417.1L439.7,415.5L442.7,411.5M454.0,397.2L439.7,401.7M444.4,403.3L439.7,401.7L442.7,397.7M454.0,383.6L439.0,383.4M443.0,386.4L439.0,383.4L443.1,380.5M454.0,370.1L439.8,365.1M442.7,369.2L439.8,365.1L444.6,363.6M454.0,356.4L439.6,352.1M442.7,356.1L439.6,352.1L444.4,350.4M454.0,342.8L439.5,346.6M444.2,348.4L439.5,346.6L442.7,342.7M454.0,329.1L440.2,335.0M445.1,336.1L440.2,335.0L442.8,330.7M454.0,315.2L440.2,321.1M445.1,322.2L440.2,321.1L442.8,316.8M454.0,188.3L439.0,189.2M443.2,191.9L439.0,189.2L442.9,186.0M454.0,173.9L439.0,174.4M443.2,177.2L439.0,174.4L442.9,171.4M454.0,99.9L439.4,96.5M442.7,100.3L439.4,96.5L444.0,94.5M454.0,84.4L440.2,78.6M442.8,82.9L440.2,78.6L445.0,77.5M467.4,438.4L453.2,443.3M458.0,444.7L453.2,443.3L456.1,439.2M467.4,424.7L453.2,429.5M458.0,431.0L453.2,429.5L456.1,425.4M467.4,410.9L453.2,415.8M458.0,417.3L453.2,415.8L456.1,411.7M467.4,397.2L453.3,402.3M458.1,403.7L453.3,402.3L456.1,398.2M467.4,383.6L452.5,385.4M456.9,387.9L452.5,385.4L456.2,382.0M467.4,342.8L453.7,348.9M458.6,350.0L453.7,348.9L456.2,344.6M467.4,329.1L453.8,335.4M458.7,336.4L453.8,335.4L456.2,331.0M467.4,202.6L452.6,205.2M457.1,207.4L452.6,205.2L456.1,201.6M467.4,188.3L452.5,190.3M456.9,192.7L452.5,190.3L456.1,186.9M467.4,173.9L452.4,174.7M456.6,177.4L452.4,174.7L456.3,171.5M467.4,159.4L452.4,159.4M456.4,162.3L452.4,159.4L456.4,156.5M467.4,144.8L452.4,144.3M456.4,147.4L452.4,144.3L456.6,141.5M467.4,99.9L455.1,91.4M456.7,96.1L455.1,91.4L460.1,91.3M467.4,84.4L456.2,74.5M457.2,79.4L456.2,74.5L461.1,75.0M467.4,68.8L456.9,58.1M457.6,63.0L456.9,58.1L461.8,58.9M467.4,53.0L457.9,41.4M458.2,46.4L457.9,41.4L462.7,42.6M480.8,438.4L467.0,444.3M471.9,445.4L467.0,444.3L469.6,440.0M480.8,424.7L466.7,429.8M471.5,431.2L466.7,429.8L469.5,425.7M480.8,410.9L466.7,416.0M471.5,417.4L466.7,416.0L469.5,411.9M480.8,397.2L466.1,400.2M470.6,402.3L466.1,400.2L469.5,396.5M480.8,383.6L478.9,368.8M476.5,373.1L478.9,368.8L482.4,372.4M480.8,370.1L479.9,355.1M477.2,359.3L479.9,355.1L483.1,358.9M480.8,259.1L466.9,264.7M471.7,265.9L466.9,264.7L469.5,260.4M480.8,245.1L466.9,250.8M471.8,252.0L466.9,250.8L469.6,246.5M480.8,231.0L466.9,236.7M471.8,237.9L466.9,236.7L469.6,232.5M480.8,216.9L466.4,221.2M471.2,222.9L466.4,221.2L469.5,217.2M480.8,202.6L466.0,205.2M470.5,207.4L466.0,205.2L469.5,201.6M480.8,188.3L466.0,190.9M470.5,193.1L466.0,190.9L469.5,187.3M480.8,173.9L465.9,175.7M470.3,178.1L465.9,175.7L469.6,172.3M480.8,159.4L465.8,159.5M469.9,162.4L465.8,159.5L469.8,156.5M480.8,144.8L465.8,144.3M469.7,147.4L465.8,144.3L470.0,141.5M480.8,130.1L466.0,127.6M469.5,131.2L466.0,127.6L470.5,125.4M480.8,115.3L467.9,107.7M469.9,112.3L467.9,107.7L472.8,107.2M480.8,99.9L469.1,90.5M470.4,95.4L469.1,90.5L474.1,90.8M480.8,84.4L470.2,73.8M471.0,78.7L470.2,73.8L475.1,74.6M480.8,68.8L470.6,57.7M471.2,62.7L470.6,57.7L475.5,58.7M480.8,53.0L471.6,41.1M471.7,46.1L471.6,41.1L476.4,42.5M494.2,438.4L480.6,444.7M485.5,445.7L480.6,444.7L483.0,440.3M494.2,424.7L480.2,430.2M485.1,431.4L480.2,430.2L482.9,425.9M494.2,410.9L480.0,415.8M484.8,417.2L480.0,415.8L482.9,411.7M494.2,397.2L480.3,391.5M483.0,395.7L480.3,391.5L485.2,390.3M494.2,259.1L480.2,264.6M485.1,265.9L480.2,264.6L482.9,260.4M494.2,245.1L480.4,250.9M485.2,252.0L480.4,250.9L483.0,246.6M494.2,231.0L480.4,236.9M485.3,238.0L480.4,236.9L483.0,232.6M494.2,216.9L480.2,222.3M485.1,223.6L480.2,222.3L482.9,218.1M494.2,202.6L479.5,205.5M484.0,207.6L479.5,205.5L482.9,201.9M494.2,188.3L479.4,190.9M483.9,193.1L479.4,190.9L482.9,187.3M494.2,173.9L479.3,175.8M483.7,178.2L479.3,175.8L483.0,172.4M494.2,159.4L479.2,159.9M483.4,162.7L479.2,159.9L483.1,156.9M494.2,144.8L479.2,144.2M483.1,147.3L479.2,144.2L483.4,141.5M494.2,130.1L479.6,126.8M482.9,130.5L479.6,126.8L484.2,124.8M494.2,115.3L480.2,109.8M482.9,114.0L480.2,109.8L485.1,108.6M494.2,99.9L481.0,92.8M483.2,97.3L481.0,92.8L485.9,92.2M494.2,84.4L482.3,75.3M483.7,80.1L482.3,75.3L487.3,75.4M494.2,68.8L483.0,58.7M484.1,63.6L483.0,58.7L488.0,59.2M494.2,53.0L484.0,41.9M484.6,46.9L484.0,41.9L489.0,42.9M507.6,424.7L494.2,431.5M499.2,432.3L494.2,431.5L496.5,427.0M507.6,410.9L493.9,417.0M498.8,418.1L493.9,417.0L496.4,412.7M507.6,397.2L492.6,396.6M496.5,399.7L492.6,396.6L496.8,393.9M507.6,287.3L493.5,292.4M498.3,293.8L493.5,292.4L496.3,288.2M507.6,273.2L493.5,278.4M498.3,279.7L493.5,278.4L496.3,274.2M507.6,259.1L493.6,264.5M498.4,265.8L493.6,264.5L496.3,260.3M507.6,245.1L493.7,250.8M498.6,252.0L493.7,250.8L496.3,246.5M507.6,231.0L493.8,236.8M498.6,237.9L493.8,236.8L496.4,232.5M507.6,216.9L493.6,222.3M498.4,223.6L493.6,222.3L496.3,218.1M507.6,202.6L493.1,206.5M497.8,208.3L493.1,206.5L496.3,202.6M507.6,188.3L492.9,191.1M497.4,193.2L492.9,191.1L496.3,187.4M507.6,173.9L492.7,175.6M497.1,178.1L492.7,175.6L496.4,172.3M507.6,159.4L492.7,160.7M496.9,163.2L492.7,160.7L496.4,157.4M507.6,144.8L492.6,146.0M496.9,148.6L492.6,146.0L496.4,142.8M507.6,130.1L492.7,128.3M496.4,131.7L492.7,128.3L497.1,125.9M507.6,115.3L493.5,110.2M496.3,114.3L493.5,110.2L498.3,108.8M507.6,99.9L493.6,94.4M496.3,98.7L493.6,94.4L498.5,93.2M507.6,84.4L494.9,76.5M496.8,81.1L494.9,76.5L499.9,76.1M507.6,68.8L495.7,59.6M497.1,64.4L495.7,59.6L500.7,59.7M507.6,53.0L497.0,42.4M497.8,47.3L497.0,42.4L501.9,43.1M521.3,452.1L508.3,459.6M513.3,460.1L508.3,459.6L510.4,455.0M521.3,438.4L508.3,445.8M513.3,446.4L508.3,445.8L510.4,441.3M521.3,424.7L508.1,431.7M513.0,432.4L508.1,431.7L510.3,427.2M521.3,410.9L508.0,417.8M512.9,418.6L508.0,417.8L510.3,413.3M521.3,397.2L507.1,402.0M511.9,403.5L507.1,402.0L510.0,397.9M521.3,329.1L507.2,334.2M512.1,335.6L507.2,334.2L510.0,330.1M521.3,315.2L507.2,320.3M512.0,321.7L507.2,320.3L510.0,316.2M521.3,301.3L507.2,306.4M512.0,307.8L507.2,306.4L510.0,302.2M521.3,287.3L507.2,292.4M512.1,293.8L507.2,292.4L510.0,288.2M521.3,273.2L507.2,278.3M512.1,279.7L507.2,278.3L510.0,274.2M521.3,259.1L507.3,264.4M512.1,265.7L507.3,264.4L510.1,260.2M521.3,245.1L507.4,250.6M512.2,251.9L507.4,250.6L510.1,246.4M521.3,231.0L507.4,236.6M512.3,237.8L507.4,236.6L510.1,232.4M521.3,216.9L507.4,222.3M512.2,223.6L507.4,222.3L510.1,218.1M521.3,202.6L507.1,207.2M511.8,208.8L507.1,207.2L510.0,203.2M521.3,188.3L506.7,191.6M511.3,193.6L506.7,191.6L510.0,187.8M521.3,173.9L506.5,175.9M510.9,178.2L506.5,175.9L510.1,172.4M521.3,159.4L506.4,160.9M510.7,163.4L506.4,160.9L510.1,157.6M521.3,144.8L506.4,146.4M510.8,148.9L506.4,146.4L510.1,143.0M521.3,130.1L506.3,130.7M510.5,133.4L506.3,130.7L510.3,127.6M521.3,115.3L507.0,110.8M510.0,114.8L507.0,110.8L511.8,109.2M521.3,99.9L507.4,94.3M510.1,98.5L507.4,94.3L512.3,93.1M521.3,84.4L507.8,77.9M510.2,82.3L507.8,77.9L512.8,77.0M521.3,68.8L508.3,61.3M510.4,65.8L508.3,61.3L513.3,60.7M521.3,53.0L509.0,44.5M510.6,49.2L509.0,44.5L514.0,44.3M535.1,438.4L521.9,445.5M526.8,446.2L521.9,445.5L524.0,441.0M535.1,424.7L521.7,431.4M526.6,432.2L521.7,431.4L524.0,426.9M535.1,410.9L521.6,417.5M526.5,418.4L521.6,417.5L523.9,413.1M535.1,397.2L521.3,403.0M526.1,404.2L521.3,403.0L523.8,398.7M535.1,383.6L520.8,388.2M525.5,389.8L520.8,388.2L523.8,384.2M535.1,370.1L520.9,375.1M525.7,376.5L520.9,375.1L523.8,371.0M535.1,356.4L521.0,361.6M525.8,362.9L521.0,361.6L523.8,357.4M535.1,342.8L521.0,347.9M525.8,349.3L521.0,347.9L523.8,343.7M535.1,329.1L521.0,334.2M525.8,335.6L521.0,334.2L523.8,330.1M535.1,315.2L521.0,320.3M525.8,321.7L521.0,320.3L523.8,316.2M535.1,301.3L521.0,306.4M525.8,307.8L521.0,306.4L523.8,302.2M535.1,287.3L521.0,292.4M525.8,293.8L521.0,292.4L523.8,288.2M535.1,273.2L521.0,278.3M525.8,279.7L521.0,278.3L523.8,274.2M535.1,259.1L521.1,264.4M525.9,265.7L521.1,264.4L523.8,260.2M535.1,245.1L521.2,250.7M526.0,251.9L521.2,250.7L523.8,246.4M535.1,231.0L521.2,236.6M526.0,237.8L521.2,236.6L523.8,232.4M535.1,216.9L521.1,222.4M526.0,223.6L521.1,222.4L523.8,218.2M535.1,202.6L520.9,207.6M525.7,209.0L520.9,207.6L523.8,203.5M535.1,188.3L520.7,192.5M525.4,194.2L520.7,192.5L523.7,188.5M535.1,173.9L520.4,177.0M525.0,179.1L520.4,177.0L523.8,173.3M535.1,159.4L520.2,161.3M524.6,163.7L520.2,161.3L523.8,157.9M535.1,144.8L520.1,146.2M524.4,148.7L520.1,146.2L523.9,142.9M535.1,130.1L520.1,129.4M524.0,132.5L520.1,129.4L524.3,126.7M535.1,115.3L520.3,112.9M523.8,116.4L520.3,112.9L524.7,110.6M535.1,99.9L520.8,95.4M523.7,99.4L520.8,95.4L525.5,93.8M535.1,84.4L521.0,79.3M523.8,83.4L521.0,79.3L525.8,77.9M535.1,68.8L521.2,63.0M523.8,67.3L521.2,63.0L526.1,61.8M535.1,53.0L521.5,46.6M523.9,51.0L521.5,46.6L526.4,45.7M548.8,424.7L535.2,431.0M540.1,432.0L535.2,431.0L537.6,426.6M548.8,410.9L535.2,417.3M540.1,418.3L535.2,417.3L537.7,412.9M548.8,397.2L535.1,403.2M540.0,404.3L535.1,403.2L537.6,398.9M548.8,383.6L534.7,388.7M539.5,390.1L534.7,388.7L537.5,384.6M548.8,370.1L534.7,375.1M539.5,376.5L534.7,375.1L537.5,371.0M548.8,356.4L534.7,361.5M539.5,362.9L534.7,361.5L537.5,357.4M548.8,342.8L534.7,347.8M539.5,349.2L534.7,347.8L537.5,343.7M548.8,329.1L534.7,334.1M539.5,335.5L534.7,334.1L537.5,330.0M548.8,315.2L534.7,320.3M539.5,321.7L534.7,320.3L537.5,316.2M548.8,301.3L534.7,306.4M539.5,307.8L534.7,306.4L537.5,302.2M548.8,287.3L534.7,292.4M539.5,293.8L534.7,292.4L537.5,288.2M548.8,273.2L534.7,278.3M539.5,279.7L534.7,278.3L537.5,274.2M548.8,259.1L534.8,264.4M539.6,265.7L534.8,264.4L537.5,260.2M548.8,245.1L534.9,250.6M539.7,251.9L534.9,250.6L537.6,246.4M548.8,231.0L534.9,236.6M539.7,237.8L534.9,236.6L537.6,232.3M548.8,216.9L534.8,222.2M539.6,223.5L534.8,222.2L537.5,218.0M548.8,202.6L534.7,207.7M539.5,209.1L534.7,207.7L537.5,203.6M548.8,188.3L534.6,193.1M539.4,194.6L534.6,193.1L537.5,189.0M548.8,173.9L534.5,178.4M539.2,180.0L534.5,178.4L537.5,174.4M548.8,159.4L534.4,163.6M539.1,165.3L534.4,163.6L537.5,159.6M548.8,144.8L533.9,146.3M538.2,148.8L533.9,146.3L537.6,143.0M548.8,130.1L533.9,128.2M537.6,131.7L533.9,128.2L538.3,125.8M548.8,115.3L534.0,113.2M537.6,116.7L534.0,113.2L538.4,110.9M548.8,99.9L534.1,97.2M537.5,100.8L534.1,97.2L538.6,95.0M548.8,84.4L534.3,80.8M537.5,84.6L534.3,80.8L538.9,78.9M548.8,68.8L534.4,64.5M537.5,68.5L534.4,64.5L539.1,62.9M548.8,53.0L534.8,47.7M537.5,51.9L534.8,47.7L539.6,46.4M562.6,438.4L549.4,445.5M554.3,446.2L549.4,445.5L551.5,441.0M562.6,424.7L549.0,431.1M553.9,432.0L549.0,431.1L551.4,426.7M562.6,410.9L549.0,417.3M553.9,418.3L549.0,417.3L551.4,412.9M562.6,397.2L548.8,403.3M553.7,404.3L548.8,403.3L551.4,399.0M562.6,383.6L548.5,389.0M553.4,390.3L548.5,389.0L551.3,384.8M562.6,370.1L548.4,375.1M553.2,376.5L548.4,375.1L551.3,370.9M562.6,356.4L548.4,361.4M553.2,362.9L548.4,361.4L551.3,357.3M562.6,342.8L548.4,347.8M553.2,349.2L548.4,347.8L551.3,343.7M562.6,329.1L548.4,334.1M553.2,335.6L548.4,334.1L551.3,330.0M562.6,315.2L548.5,320.3M553.3,321.7L548.5,320.3L551.3,316.2M562.6,301.3L548.5,306.4M553.3,307.8L548.5,306.4L551.3,302.2M562.6,287.3L548.5,292.4M553.3,293.8L548.5,292.4L551.3,288.2M562.6,273.2L548.5,278.3M553.3,279.7L548.5,278.3L551.3,274.2M562.6,259.1L548.5,264.2M553.3,265.6L548.5,264.2L551.3,260.1M562.6,245.1L548.5,250.4M553.3,251.7L548.5,250.4L551.3,246.2M562.6,231.0L548.5,236.3M553.3,237.6L548.5,236.3L551.3,232.1M562.6,216.9L548.5,222.0M553.3,223.4L548.5,222.0L551.3,217.8M562.6,202.6L548.5,207.8M553.3,209.1L548.5,207.8L551.3,203.6M562.6,188.3L548.4,193.3M553.2,194.7L548.4,193.3L551.3,189.2M562.6,173.9L548.3,178.5M553.0,180.1L548.3,178.5L551.2,174.5M562.6,159.4L548.3,164.0M553.0,165.6L548.3,164.0L551.2,160.0M562.6,144.8L547.9,147.9M552.4,149.9L547.9,147.9L551.2,144.2M562.6,130.1L547.6,128.6M551.4,132.0L547.6,128.6L552.0,126.1M562.6,115.3L547.7,113.2M551.3,116.7L547.7,113.2L552.1,110.9M562.6,99.9L547.7,97.7M551.3,101.2L547.7,97.7L552.2,95.4M562.6,84.4L547.7,82.3M551.3,85.8L547.7,82.3L552.1,80.0M562.6,68.8L547.7,67.0M551.3,70.4L547.7,67.0L552.0,64.6M562.6,53.0L547.6,52.3M551.5,55.4L547.6,52.3L551.7,49.6M576.3,452.1L563.3,459.6M568.3,460.1L563.3,459.6L565.3,455.0M576.3,438.4L563.3,445.8M568.2,446.4L563.3,445.8L565.3,441.2M576.3,424.7L562.9,431.5M567.9,432.3L562.9,431.5L565.2,427.0M576.3,410.9L562.8,417.4M567.7,418.3L562.8,417.4L565.1,413.0M576.3,397.2L562.6,403.3M567.5,404.3L562.6,403.3L565.1,398.9M576.3,383.6L562.3,389.1M567.2,390.4L562.3,389.1L565.0,384.9M576.3,370.1L562.2,375.1M567.0,376.5L562.2,375.1L565.0,371.0M576.3,356.4L562.1,361.4M566.9,362.8L562.1,361.4L565.0,357.3M576.3,342.8L562.1,347.7M566.9,349.2L562.1,347.7L565.0,343.6M576.3,329.1L562.2,334.1M567.0,335.5L562.2,334.1L565.0,330.0M576.3,315.2L562.2,320.3M567.0,321.7L562.2,320.3L565.0,316.2M576.3,301.3L562.2,306.4M567.0,307.8L562.2,306.4L565.0,302.2M576.3,287.3L562.2,292.4M567.0,293.8L562.2,292.4L565.0,288.2M576.3,273.2L562.2,278.3M567.0,279.7L562.2,278.3L565.0,274.1M576.3,259.1L562.2,264.1M566.9,265.5L562.2,264.1L565.0,260.0M576.3,245.1L562.2,250.1M567.0,251.5L562.2,250.1L565.0,246.0M576.3,231.0L562.2,236.0M567.0,237.5L562.2,236.0L565.0,231.9M576.3,216.9L562.2,221.9M567.0,223.3L562.2,221.9L565.0,217.8M576.3,202.6L562.2,207.7M567.0,209.1L562.2,207.7L565.0,203.6M576.3,188.3L562.1,193.2M566.9,194.7L562.1,193.2L565.0,189.1M576.3,173.9L562.0,178.5M566.8,180.1L562.0,178.5L565.0,174.5M576.3,159.4L562.0,163.9M566.7,165.5L562.0,163.9L565.0,159.9M576.3,144.8L561.6,147.9M566.2,150.0L561.6,147.9L565.0,144.2M576.3,130.1L561.3,129.6M565.3,132.7L561.3,129.6L565.5,126.8M576.3,115.3L561.4,113.4M565.1,116.8L561.4,113.4L565.8,111.0M576.3,99.9L561.5,97.7M565.0,101.2L561.5,97.7L565.9,95.4M576.3,84.4L561.4,82.3M565.0,85.8L561.4,82.3L565.9,80.0M576.3,68.8L561.3,67.6M565.2,70.8L561.3,67.6L565.6,65.0M576.3,53.0L561.3,52.4M565.2,55.5L561.3,52.4L565.5,49.6" stroke="#000070" stroke-width="1" fill="none" stroke-linecap="butt" shape-rendering="crispEdges"/><path d="M168.3,329.1L156.9,319.3M158.1,324.2L156.9,319.3L161.9,319.7M168.3,315.2L157.6,304.7M158.4,309.6L157.6,304.7L162.5,305.4M181.9,356.4L167.5,352.5M170.6,356.4L167.5,352.5L172.1,350.7M181.9,342.8L167.7,338.1M170.6,342.1L167.7,338.1L172.5,336.5M181.9,329.1L170.8,319.0M171.8,323.9L170.8,319.0L175.8,319.6M181.9,315.2L171.3,304.6M172.1,309.5L171.3,304.6L176.3,305.4M181.9,301.3L171.8,290.2M172.4,295.2L171.8,290.2L176.7,291.2M195.6,370.1L180.8,367.8M184.3,371.3L180.8,367.8L185.2,365.5M195.6,356.4L181.1,352.6M184.2,356.5L181.1,352.6L185.7,350.8M195.6,342.8L181.4,338.0M184.3,342.1L181.4,338.0L186.1,336.5M195.6,329.1L183.6,320.1M185.1,324.9L183.6,320.1L188.6,320.2M195.6,315.2L184.9,304.7M185.7,309.6L184.9,304.7L189.8,305.4M195.6,301.3L186.3,289.5M186.5,294.5L186.3,289.5L191.1,290.8M209.2,383.6L194.4,381.3M197.9,384.8L194.4,381.3L198.9,379.0M209.2,370.1L194.4,368.0M198.0,371.4L194.4,368.0L198.8,365.6M209.2,356.4L194.5,353.8M197.9,357.4L194.5,353.8L199.0,351.6M209.2,342.8L195.6,336.5M198.0,340.9L195.6,336.5L200.5,335.5M209.2,329.1L197.6,319.6M198.9,324.4L197.6,319.6L202.6,319.9M209.2,315.2L197.7,305.7M198.9,310.5L197.7,305.7L202.6,306.0M222.9,383.6L208.3,380.2M211.5,384.0L208.3,380.2L212.9,378.3M222.9,370.1L207.9,368.4M211.7,371.8L207.9,368.4L212.3,366.0M222.9,356.4L208.1,353.9M211.6,357.4L208.1,353.9L212.6,351.7M222.9,342.8L208.4,338.9M211.5,342.8L208.4,338.9L213.0,337.1M222.9,329.1L211.0,319.9M212.4,324.7L211.0,319.9L216.0,320.1M236.5,370.1L221.5,371.1M225.8,373.8L221.5,371.1L225.4,367.9M236.5,356.4L221.5,357.0M225.7,359.8L221.5,357.0L225.4,353.9M263.7,188.3L255.1,176.0M255.0,181.0L255.1,176.0L259.8,177.6M467.4,287.3L453.3,292.4M458.1,293.8L453.3,292.4L456.1,288.3M467.4,259.1L453.6,265.1M458.5,266.2L453.6,265.1L456.2,260.8M494.2,342.8L479.6,346.3M484.2,348.2L479.6,346.3L482.9,342.5" stroke="#0000a0" stroke-width="1" fill="none" stroke-linecap="butt" shape-rendering="crispEdges"/><g fill="#c6c3c6" stroke="#000" stroke-width="1.35" stroke-linejoin="round"><polygon points="153.0,37.0 466.5,37.0 467.0,39.0 465.5,40.4 463.9,41.7 462.1,42.7 461.0,44.5 460.8,46.5 460.5,48.5 460.1,50.5 460.0,52.5 461.4,54.5 462.0,56.8 463.0,59.0 461.0,60.5 459.0,62.0 457.5,64.0 456.7,66.2 455.1,67.8 453.5,69.5 452.7,71.7 450.5,72.9 449.5,75.0 448.1,76.9 447.8,79.3 446.0,81.0 443.9,82.4 442.5,84.2 441.5,86.5 439.0,86.8 436.5,87.3 434.0,88.0 434.8,89.9 435.2,91.9 434.7,94.0 435.0,96.0 435.0,98.2 434.2,100.1 433.5,102.1 432.5,104.0 431.4,106.1 429.3,107.3 427.7,108.9 426.0,110.5 424.2,111.9 423.2,114.0 421.7,115.6 420.5,117.5 418.6,118.5 416.6,119.3 414.8,120.6 413.1,121.8 411.0,122.5 409.0,123.8 407.7,125.6 406.5,127.6 405.5,129.7 403.7,130.9 402.4,132.7 400.9,134.2 399.0,135.3 397.4,137.0 395.7,138.6 393.5,139.5 391.9,141.6 391.0,144.0 388.7,145.0 386.1,145.3 383.9,146.8 381.5,147.5 379.2,146.9 377.0,147.2 374.8,148.6 372.5,148.0 370.7,148.8 368.7,148.1 367.0,149.0 365.4,150.4 363.2,151.1 362.0,153.0 359.5,153.2 357.0,153.0 355.7,151.2 355.7,148.9 355.1,146.9 354.0,145.0 352.6,144.8 351.5,144.0 352.2,146.5 352.0,149.0 351.2,151.5 352.0,154.0 350.3,154.7 349.0,156.0 347.0,157.8 344.5,158.5 343.1,160.0 341.5,161.3 339.5,162.0 337.5,163.1 335.1,162.6 333.0,163.5 330.5,164.1 328.0,163.7 325.8,164.4 323.8,165.3 321.6,166.0 319.8,167.3 317.4,167.4 315.7,169.1 313.5,169.5 312.6,170.6 312.0,172.0 311.7,173.9 310.4,175.4 309.5,177.0 311.1,178.2 312.0,180.0 312.0,182.1 311.3,184.0 308.9,184.1 307.0,185.5 306.1,183.6 304.3,182.3 303.3,180.5 303.3,178.3 301.7,176.6 301.6,174.5 302.1,172.2 303.0,170.0 302.7,168.0 301.7,166.3 300.7,164.5 299.1,165.1 297.5,164.5 295.4,165.2 294.3,167.0 292.5,166.5 290.9,165.7 289.4,164.5 288.0,163.1 286.1,162.6 284.6,161.3 283.2,162.6 281.8,164.0 279.8,164.5 277.6,165.8 275.0,166.0 273.3,167.2 271.9,169.0 270.0,170.0 268.8,171.6 267.8,173.4 265.6,173.7 263.4,173.8 261.2,173.2 259.0,174.0 258.5,176.0 258.0,178.0 257.4,179.6 256.5,181.2 256.5,183.0 255.0,185.0 253.2,186.7 251.0,188.0 249.4,189.8 248.4,192.0 247.7,194.3 247.5,196.4 246.9,198.4 245.6,200.2 245.3,202.3 245.5,204.9 247.0,207.0 249.1,208.3 250.2,210.8 252.5,212.0 253.3,214.5 255.0,216.4 255.9,218.7 257.2,220.7 258.2,223.0 260.2,224.2 261.9,225.7 262.5,228.2 264.6,229.3 266.5,230.8 267.6,233.1 269.7,234.5 271.0,236.5 272.3,238.1 274.2,239.0 276.1,239.9 277.5,241.3 279.4,242.5 280.5,244.7 282.3,246.0 284.2,247.6 285.3,249.6 286.3,251.8 287.3,254.0 288.0,256.3 289.5,258.2 290.2,260.4 291.5,262.3 292.0,264.6 291.9,267.1 293.4,269.3 293.5,271.8 294.5,274.1 294.4,276.6 294.3,279.0 294.8,281.0 295.8,282.9 296.1,284.9 296.0,287.0 295.9,289.2 295.2,291.3 295.0,293.5 295.5,295.0 294.8,296.4 294.5,298.9 293.2,301.1 293.2,303.7 291.5,305.2 290.9,307.3 290.0,309.3 288.2,310.2 286.7,311.5 285.4,313.3 283.5,314.0 282.3,315.8 280.7,317.1 278.2,317.3 277.0,319.0 274.8,319.7 272.5,320.4 270.7,322.0 268.8,323.5 266.4,323.5 264.3,324.5 263.0,325.6 261.3,326.4 260.2,327.8 259.1,329.8 256.9,331.1 256.2,333.4 255.0,335.1 253.0,335.7 251.2,336.7 249.8,338.2 247.3,339.0 245.3,340.6 243.4,342.2 241.3,343.6 239.4,345.1 237.8,347.0 236.2,346.4 234.5,347.0 234.3,344.8 234.8,342.6 235.1,340.4 234.5,338.2 235.4,336.3 235.1,334.2 236.1,332.3 236.0,330.2 234.8,328.1 232.9,326.7 231.3,325.0 229.8,323.6 228.0,322.5 226.2,322.8 224.3,322.7 222.5,323.0 221.0,320.9 219.3,319.0 218.1,317.1 218.3,314.7 217.5,312.7 215.1,313.2 213.5,315.0 212.8,312.7 211.2,311.0 210.4,308.8 209.0,307.0 207.7,305.2 206.9,303.1 205.4,301.4 203.5,299.7 201.4,298.2 199.7,296.7 198.6,294.6 196.6,293.4 194.0,293.2 191.8,291.8 189.3,291.6 187.0,292.9 184.4,292.2 182.0,292.6 180.8,291.0 179.7,289.4 180.1,287.6 181.5,286.3 182.0,284.5 181.2,282.9 180.5,281.3 178.1,280.9 175.8,280.3 173.3,281.1 171.0,280.5 169.8,282.3 167.7,283.0 168.5,284.8 168.5,286.8 169.3,288.6 169.7,291.0 169.8,293.4 168.7,295.8 169.3,298.2 168.0,299.7 167.2,301.4 166.0,303.0 164.7,304.9 164.7,307.4 163.7,309.4 162.6,311.3 162.5,313.6 161.3,315.5 160.4,317.5 159.2,319.5 158.2,321.6 158.0,324.0 157.2,326.3 157.8,328.8 157.3,331.1 157.2,333.5 157.9,335.7 158.0,338.0 160.3,338.0 162.3,339.1 164.5,339.6 165.1,342.0 166.2,344.1 167.7,346.0 168.4,348.1 169.0,350.2 170.9,351.7 172.0,353.5 172.5,355.7 173.2,358.1 174.1,360.4 174.8,362.8 175.0,365.3 176.5,366.6 177.6,368.3 179.1,369.6 180.5,371.0 182.6,371.1 184.5,372.3 186.4,372.9 188.6,372.6 190.3,374.4 192.3,375.9 193.4,378.2 195.8,378.6 197.4,380.8 199.8,381.4 201.8,382.0 202.8,384.1 204.5,385.1 206.2,386.2 207.8,388.1 208.6,390.5 211.0,391.9 211.8,394.3 213.1,396.1 213.5,398.3 214.9,400.0 215.0,402.3 214.1,404.8 214.6,407.5 214.3,410.0 213.4,412.5 214.2,414.6 213.5,416.9 213.9,419.0 214.0,421.2 214.6,423.1 215.3,424.9 215.8,426.9 217.0,428.5 217.9,430.8 219.7,432.5 221.4,434.3 223.0,436.0 223.8,438.2 225.0,440.2 225.9,442.7 225.8,445.3 224.0,446.5 221.9,446.3 220.0,446.7 218.1,445.7 215.8,445.7 214.0,444.5 211.9,443.6 210.1,442.4 208.3,441.0 206.5,439.5 204.4,438.4 202.4,437.2 200.6,435.9 198.7,434.5 196.6,433.6 194.6,432.3 193.0,430.3 190.8,429.2 189.7,427.5 187.5,427.3 186.4,425.6 186.0,423.4 184.8,421.6 183.5,419.8 182.3,418.2 182.0,416.2 181.5,414.3 180.6,412.5 179.9,410.6 178.1,409.6 177.0,408.0 177.3,406.1 178.0,404.3 177.7,402.3 177.4,400.3 176.9,398.4 175.5,396.8 174.8,395.0 174.6,392.9 173.4,390.9 173.7,388.7 173.4,386.6 172.5,384.6 172.4,382.4 172.3,380.3 171.7,378.2 170.0,376.9 169.5,374.6 167.7,373.4 167.3,370.9 166.2,368.8 164.5,367.0 162.9,365.1 161.6,362.9 159.6,361.3 158.0,359.6 157.4,357.2 155.6,355.7 154.4,354.8 153.0,355.0"/><polygon points="469.0,273.5 470.9,271.9 473.1,270.6 475.0,270.0 476.8,270.5 478.7,270.6 479.8,272.6 481.0,274.5 481.8,276.4 483.2,277.9 484.9,279.5 486.6,281.2 488.8,282.4 490.0,284.6 490.7,286.6 492.2,288.0 490.5,288.7 488.9,288.0 487.5,286.0 485.5,284.6 484.0,283.4 483.0,281.7 482.1,280.1 480.7,278.1 478.7,276.7 476.2,276.1 474.2,274.5 472.6,276.0 470.5,276.5 469.8,275.0"/><polygon points="285.8,200.0 287.5,198.5 289.1,196.9 290.2,194.8 292.3,193.6 294.5,192.4 296.0,190.4 298.4,189.7 301.1,189.6 303.3,188.2 305.2,187.3 307.2,187.3 309.3,187.5 311.3,187.2 313.2,187.4 315.0,188.2 316.0,190.3 317.6,192.0 316.1,194.0 315.0,196.2 314.2,197.9 313.1,199.4 312.8,201.3 312.0,203.0 311.6,204.8 310.6,206.4 309.2,207.5 307.4,207.9 306.2,209.3 303.9,210.2 302.6,212.4 300.4,213.4 298.6,212.5 296.7,211.9 294.6,212.2 292.6,211.2 290.7,210.2 288.7,209.3 287.0,207.4 286.0,205.0 286.0,202.5"/><polygon points="460.2,111.2 461.8,112.3 463.3,113.5 465.0,114.5 465.7,116.7 464.3,118.8 465.0,121.0 464.2,123.1 463.5,125.3 462.6,127.3 461.6,129.2 461.3,131.3 460.8,133.3 460.2,135.3 459.1,137.2 459.2,139.6 457.7,141.4 457.0,143.4 456.0,145.6 454.2,147.4 453.7,149.8 452.5,151.8 452.9,154.2 452.0,156.2 451.3,158.2 450.5,160.2 448.8,158.5 448.0,156.2 446.6,154.1 445.7,151.7 444.0,149.8 444.0,147.6 442.8,145.8 442.0,143.9 441.7,141.8 441.4,139.7 442.3,137.8 442.9,135.8 442.5,133.7 443.1,131.3 445.0,129.6 445.7,127.3 446.4,124.8 448.0,122.9 449.7,121.0 451.0,118.8 453.1,117.4 454.5,115.3 456.2,113.7 458.2,112.4"/><polygon points="448.9,210.1 451.4,209.5 453.7,208.5 455.9,208.7 457.6,210.4 460.0,210.4 461.8,211.7 463.7,212.5 465.7,213.0 467.4,214.1 467.8,212.3 469.0,210.9 469.8,209.3 470.7,211.3 471.4,213.3 471.3,215.7 471.0,218.1 470.6,220.5 471.1,222.7 472.2,224.7 472.2,227.0 473.2,229.0 473.1,231.3 473.8,233.4 472.8,235.5 472.2,237.7 471.4,239.8 469.2,241.0 467.6,242.9 465.8,244.6 464.1,245.9 463.4,248.1 461.8,249.4 460.7,250.5 460.2,252.0 459.7,253.9 459.6,255.7 460.2,257.6 460.8,259.4 461.2,261.3 461.3,263.2 461.6,265.7 463.0,267.7 464.2,269.8 464.7,272.2 466.2,274.5 468.6,275.6 469.9,277.7 472.0,279.0 473.8,280.4 474.8,282.4 475.8,283.8 476.0,285.5 474.0,285.0 473.1,283.3 471.4,282.2 470.5,280.5 468.1,279.5 466.5,277.5 465.0,275.8 463.0,275.0 461.9,274.5 460.3,276.3 458.5,277.9 456.4,276.4 454.0,275.6 451.5,275.0 449.5,273.4 448.6,271.6 448.2,269.5 447.2,267.7 449.0,266.5 451.0,265.8 453.0,266.5 452.6,264.6 453.0,262.7 451.2,262.4 449.3,262.1 447.5,262.7 445.8,261.7 443.9,262.1 441.8,260.8 440.5,258.7 440.5,256.5 440.9,254.2 440.5,252.0 439.3,251.0 438.8,248.6 438.5,246.1 437.7,243.8 439.6,243.3 441.4,243.2 443.3,243.8 443.3,241.3 443.7,238.8 444.9,236.6 445.4,234.6 445.7,232.6 446.2,230.6 446.5,228.6 445.5,226.6 445.0,224.4 444.9,222.1 445.0,219.9 446.5,218.0 446.5,215.7 448.0,214.1 448.7,212.2"/><polygon points="447.2,281.2 449.4,280.4 451.7,280.2 454.0,280.7 455.1,282.2 457.0,282.5 458.5,283.5 458.7,285.5 459.9,287.2 460.2,289.1 459.9,291.4 459.6,293.6 457.9,294.7 456.2,295.9 455.0,294.1 454.1,292.0 452.9,290.2 451.3,288.7 451.2,286.3 450.0,284.6 449.0,282.6"/><polygon points="499.5,295.9 501.4,294.9 503.6,294.7 505.7,294.2 507.5,294.9 509.5,294.8 511.3,295.3 512.5,296.8 513.3,298.5 513.6,300.4 514.0,302.3 515.2,304.0 515.0,306.0 515.0,308.5 513.5,309.6 513.0,311.3 511.8,309.4 509.9,308.2 509.2,306.0 507.9,304.1 506.9,302.4 505.3,301.3 503.8,300.1 502.0,299.0 500.6,297.5"/><polygon points="500.8,311.3 502.5,311.1 504.2,310.6 505.9,310.2 505.7,312.1 506.5,313.7 507.4,315.3 508.2,316.9 507.8,318.9 508.9,320.4 509.3,322.6 510.4,324.5 509.0,324.6 507.9,325.5 507.7,323.6 506.4,322.2 505.9,320.4 505.8,318.5 505.0,316.8 503.8,315.3 502.5,314.1 500.8,313.5"/><polygon points="484.4,295.3 486.5,296.5 488.9,297.0 490.1,298.4 491.9,299.2 493.3,300.4 491.6,300.3 490.0,300.8 488.2,300.4 486.9,299.1 485.5,298.0 484.9,296.7"/><polygon points="466.2,303.1 468.2,303.1 469.7,304.3 471.3,305.2 473.3,306.1 475.3,306.7 477.4,307.2 479.4,307.3 481.0,308.8 483.0,308.7 482.0,310.7 481.4,312.8 479.8,314.2 477.9,314.9 476.3,316.3 474.6,317.2 472.9,318.3 471.3,319.4 469.3,320.5 467.2,321.4 467.9,319.4 467.4,317.3 467.2,315.3 467.8,313.3 468.3,311.3 468.2,309.2 468.2,306.9 466.2,305.4"/><polygon points="481.4,316.3 483.7,316.5 486.0,316.3 485.9,318.4 486.5,320.4 486.0,322.6 485.0,324.5 484.0,326.5 484.1,328.4 483.4,330.0 482.5,331.6 483.2,334.1 483.5,336.7 483.6,338.9 482.5,340.8 480.8,340.6 479.4,339.7 478.5,337.9 476.7,337.0 475.3,335.7 474.3,333.9 473.3,332.1 474.8,331.6 475.3,330.1 477.1,329.4 478.9,328.6 480.1,326.2 479.9,323.5 480.4,321.3 480.5,319.0 481.4,317.8"/><polygon points="492.6,316.3 493.8,317.8 493.3,320.3 491.5,322.2 490.6,324.5 489.2,326.0 489.1,328.3 487.5,329.6 486.2,331.1 486.6,333.2 485.5,334.7 484.6,334.0 485.2,332.2 485.4,330.2 486.5,328.6 487.5,326.6 488.7,324.6 489.6,322.5 489.6,320.6 491.5,319.4 491.5,317.5"/><polygon points="496.7,327.5 498.5,327.9 500.3,328.6 500.0,330.1 499.7,331.6 497.6,332.5 495.7,333.6 494.1,333.0 492.6,332.1 493.0,330.6 494.0,329.5 495.5,328.7"/><polygon points="496.7,273.4 498.1,273.5 499.5,273.4 499.8,275.4 499.2,277.5 499.5,279.5 498.1,279.8 496.7,279.5 496.0,277.5 496.3,275.4"/><polygon points="516.0,333.6 518.0,334.7 519.1,336.7 520.8,338.1 521.5,340.3 523.1,341.8 524.0,343.5 524.2,345.5 525.5,347.0 525.5,349.3 527.0,351.3 526.7,353.7 526.6,355.9 527.3,357.9 529.2,359.6 529.2,361.8 528.1,363.8 528.2,366.1 527.6,368.2 526.1,369.8 524.5,371.4 523.7,373.6 524.8,375.8 524.3,378.0 523.6,375.8 523.4,373.4 522.0,371.5 520.6,369.6 518.7,368.2 516.7,369.8 514.7,371.4 513.6,373.7 514.0,376.2 514.6,378.3 515.9,380.0 517.0,381.8 516.8,383.7 515.3,385.0 514.7,386.7 512.7,386.4 510.7,386.0 508.8,385.1 507.5,383.5 505.2,383.3 503.5,381.8 501.6,380.7 499.4,380.2 497.8,378.6 496.7,376.8 495.9,374.7 494.6,373.0 495.1,370.9 495.3,368.6 496.2,366.6 495.8,364.7 495.0,362.9 494.6,361.0 492.9,359.1 490.6,357.8 488.6,358.6 486.6,359.4 484.1,360.4 482.6,362.6 481.3,361.0 479.5,360.2 477.7,359.4 476.1,361.1 474.3,362.5 472.1,363.4 470.5,365.3 469.6,367.5 469.0,369.8 468.3,368.5 467.3,367.4 467.7,365.5 468.1,363.6 469.0,361.8 470.3,360.4 471.1,358.7 472.1,357.0 474.6,356.6 477.0,356.1 479.4,355.3 480.5,353.9 480.6,351.9 481.8,350.5 483.2,349.2 485.3,349.1 486.5,347.5 488.4,348.6 490.6,348.5 491.1,350.5 492.5,352.0 494.1,352.8 494.6,354.5 495.8,352.7 497.6,351.6 499.4,350.5 500.8,350.9 502.7,349.8 504.8,348.9 505.5,346.9 505.9,344.8 507.2,343.7 508.9,343.8 511.0,342.4 513.0,340.8 512.9,338.6 514.0,336.7 514.5,334.8"/><polygon points="398.8,358.5 399.9,356.7 400.6,354.7 401.5,352.8 402.2,350.8 403.5,348.9 405.1,347.2 406.2,345.1 408.0,343.6 409.6,341.6 411.8,340.2 413.6,338.5 415.0,336.3 416.4,334.1 418.2,332.3 420.7,331.3 422.2,329.2 423.9,327.9 425.7,326.7 426.7,324.6 428.6,323.5 429.9,322.0 431.1,320.4 432.8,319.3 433.8,317.6 434.0,315.7 433.1,313.9 432.5,312.0 434.1,313.2 436.0,314.0 435.4,315.5 436.2,317.0 435.2,318.9 433.7,320.6 432.6,322.4 430.8,324.1 429.1,325.9 428.2,328.3 426.6,330.2 425.4,332.2 424.3,334.4 422.4,336.0 420.5,337.2 420.0,339.5 418.5,341.1 416.6,342.2 415.2,343.8 413.4,345.3 411.4,346.5 410.0,348.4 408.0,349.6 406.3,351.1 405.7,353.5 404.1,355.1 402.4,356.6 401.0,357.6 400.0,359.0"/><polygon points="153.0,417.0 155.6,417.1 157.9,418.0 160.2,419.0 161.4,420.5 162.9,421.7 164.6,422.7 166.3,424.4 168.0,426.2 169.0,428.5 171.1,430.0 172.6,432.2 174.8,433.6 177.0,434.9 179.0,436.5 180.9,435.7 183.0,436.3 185.0,435.8 185.9,437.3 186.5,439.1 188.0,440.2 189.6,441.7 191.5,442.6 193.7,443.0 195.2,444.8 196.2,447.0 198.3,448.4 199.5,450.4 201.6,451.6 203.5,453.1 205.4,454.7 207.0,456.2 209.0,457.2 211.2,457.6 212.8,458.0 214.0,459.0 216.1,460.3 218.1,461.8 220.0,463.5 220.9,464.6 221.4,466.0 164.0,466.0 162.1,464.8 160.4,463.5 158.7,462.0 157.3,460.2 156.9,458.0 155.8,456.0 154.8,453.7 153.0,452.0"/><polygon points="292.6,466.0 291.9,463.5 291.5,461.0 290.2,458.7 290.5,456.3 290.1,453.8 291.2,451.5 291.0,449.0 292.3,447.1 292.3,444.7 293.4,442.7 294.9,440.5 297.4,439.4 299.4,441.1 301.4,442.7 303.4,442.5 305.4,442.4 307.5,442.7 309.4,441.8 311.4,442.6 313.3,443.5 315.7,443.1 317.5,444.3 319.2,442.7 320.7,441.0 321.1,438.9 320.1,436.7 320.7,434.6 321.3,432.6 323.2,431.6 324.0,429.8 325.9,428.6 327.0,426.6 328.9,425.6 331.0,426.0 332.9,424.9 335.0,425.0 337.5,424.8 340.0,424.0 342.3,422.8 344.8,422.6 346.1,420.9 348.3,420.2 349.6,418.6 350.8,417.0 352.3,415.5 353.1,413.6 354.4,412.0 355.4,410.3 357.4,409.3 358.2,407.4 359.2,405.7 360.8,404.8 362.4,404.0 364.0,402.4 365.8,400.9 367.2,399.0 369.7,398.5 372.0,397.4 373.9,396.4 374.8,394.5 376.6,393.5 377.7,391.8 379.9,390.7 382.2,389.6 384.0,387.8 385.8,386.5 387.2,384.9 388.7,383.3 389.7,381.3 391.6,379.9 392.7,377.8 393.9,375.8 395.3,374.0 397.3,373.3 399.3,372.4 401.0,371.0 402.4,372.8 403.8,374.6 405.0,376.5 406.5,378.1 406.8,380.3 408.2,382.0 409.9,384.0 412.6,384.5 414.6,386.0 416.9,386.6 418.9,387.7 420.7,389.1 422.7,390.2 425.2,390.7 427.3,392.5 430.0,392.6 429.3,395.0 427.5,396.6 425.4,397.4 423.3,398.2 421.0,398.2 419.1,398.5 417.2,398.7 415.4,399.6 417.7,400.0 419.9,400.7 421.9,402.1 424.0,403.0 422.0,403.9 419.9,404.5 418.3,406.0 416.8,407.5 414.9,408.3 413.0,409.1 411.0,409.6 410.9,411.6 410.4,413.6 409.5,415.4 408.2,417.5 407.4,419.7 406.6,422.0 407.9,424.0 409.0,426.1 409.5,428.5 411.0,430.0 412.4,431.6 413.2,433.6 411.4,435.2 410.3,437.2 412.2,438.9 413.6,441.1 415.4,443.0 417.0,445.1 419.3,446.4 421.2,448.2 422.9,449.4 423.7,451.5 425.6,452.5 423.1,452.1 420.8,453.3 418.3,453.3 415.9,453.2 413.4,452.6 411.0,453.3 410.0,454.7 409.3,456.4 408.0,457.6 408.3,459.8 406.6,461.7 406.5,463.8 406.6,466.0"/><polygon points="460.0,451.2 462.0,451.0 464.0,451.2 466.0,451.2 468.0,451.2 470.1,451.3 471.9,452.7 474.0,452.6 476.0,452.8 478.0,452.8 480.0,452.9 481.9,454.0 483.8,454.4 485.8,454.0 487.8,454.4 489.8,454.1 491.8,453.6 494.0,452.7 495.8,451.0 498.2,450.4 499.4,448.4 501.2,447.0 503.0,445.6 504.3,444.0 506.5,443.4 507.7,441.7 509.3,442.9 511.0,444.0 509.7,445.5 508.2,446.8 507.7,448.8 506.9,450.6 505.5,452.0 504.5,453.6 503.3,455.6 501.0,456.5 499.7,458.4 497.9,459.7 495.6,459.1 493.6,459.6 491.8,460.7 489.8,460.0 487.7,461.0 485.8,460.5 483.8,460.0 481.9,459.1 479.7,459.4 477.9,458.2 476.0,457.6 474.0,457.6 472.0,456.9 470.0,457.5 468.0,457.6 465.9,457.3 464.0,458.4 462.0,458.4 459.5,458.4 457.2,459.5 454.7,459.8 452.4,458.5 449.7,458.9 447.4,457.6 445.2,458.2 443.7,460.0 441.6,460.6 441.0,462.4 440.5,464.2 440.0,466.0 437.5,466.0 437.6,463.4 438.7,461.0 440.2,459.6 440.9,457.6 441.9,456.0 443.1,454.6 444.5,453.3 446.2,451.9 448.3,451.5 450.3,451.0 451.7,449.8 453.4,448.8 454.7,447.4 456.6,448.5 458.1,450.2"/><polygon points="545.9,437.7 547.4,439.0 548.1,440.8 549.0,442.5 548.5,444.6 547.3,446.5 547.4,448.8 549.2,449.4 551.0,449.0 552.6,447.8 553.4,445.7 555.4,444.9 557.5,446.0 557.4,448.2 557.0,450.4 555.2,451.8 554.1,453.9 552.2,455.2 550.5,456.7 549.0,458.4 548.7,460.9 549.1,463.6 548.0,466.0 544.5,466.0 544.9,463.4 544.3,460.9 543.5,458.4 543.9,456.6 545.3,455.3 546.0,453.6 544.3,452.0 542.5,451.5 541.0,450.4 541.2,448.4 541.9,446.5 542.0,444.4 542.7,442.5 543.6,440.8 544.7,439.2"/><polygon points="553.0,431.0 554.8,431.0 556.5,430.5 557.1,432.2 557.0,434.0 555.8,436.0 554.0,437.5 553.3,436.0 552.0,435.0 552.3,432.9"/><polygon points="278.0,408.5 279.8,409.2 281.5,408.5 281.9,410.3 282.5,412.0 281.0,413.3 280.0,415.0 278.6,414.2 277.5,413.0 278.2,410.8"/><polygon points="466.0,374.0 468.0,373.4 470.0,374.0 470.5,375.5 470.0,377.0 468.0,377.6 466.0,377.0 466.3,375.5"/><polygon points="180.0,435.0 181.8,435.1 183.5,434.5 184.5,436.1 184.5,438.0 183.4,439.4 182.0,440.5 180.0,439.0 180.5,437.0"/><polygon points="187.5,437.0 189.7,437.6 192.0,438.0 193.3,439.8 193.5,442.0 191.9,442.9 190.0,443.0 188.4,442.1 187.5,440.5 186.9,438.8"/><polygon points="197.0,445.0 198.7,445.4 200.5,445.4 202.0,446.5 203.0,448.7 205.0,450.0 203.5,450.8 202.0,451.5 200.0,450.2 198.0,449.0 197.7,446.9"/><polygon points="204.0,451.0 205.6,451.9 207.2,452.5 209.0,452.5 210.1,454.2 211.0,456.0 209.0,456.5 207.0,456.5 205.4,455.4 204.0,454.0 203.3,452.5"/><polygon points="222.0,450.0 224.0,449.6 226.0,449.5 226.2,451.1 227.0,452.5 225.1,452.3 223.5,453.5 223.1,451.6"/><polygon points="228.0,455.0 230.0,455.2 232.0,455.0 232.1,457.0 232.5,459.0 230.9,460.0 229.0,459.5 228.3,457.3"/></g><polyline points="466.5,39.0 461.0,45.0 460.0,52.5 462.0,59.0 457.5,64.0 453.5,69.5 449.5,75.0 446.0,81.0 441.5,86.5 435.0,89.0 435.0,96.0 432.5,104.0 426.0,110.5 420.5,117.5 411.0,122.5 405.5,129.7 399.0,135.3 393.5,139.5 391.0,144.0" fill="none" stroke="#000" stroke-width="2.6" stroke-linejoin="round" stroke-dasharray="4 1.5 2 1 6 2 3 1"/><polyline points="362.0,153.0 357.0,153.0 354.0,146.0 352.0,145.0 352.0,154.0 349.0,156.0 344.5,158.5 339.5,162.0 333.0,163.5" fill="none" stroke="#000" stroke-width="2.6" stroke-linejoin="round" stroke-dasharray="4 1.5 2 1 6 2 3 1"/><polyline points="270.0,170.0 267.8,173.4 259.0,174.5" fill="none" stroke="#000" stroke-width="3" stroke-linejoin="round" stroke-dasharray="4 1.5 2 1 6 2 3 1"/><polyline points="300.7,164.5 297.5,164.5 294.3,167.0 289.4,164.5 284.6,161.3 279.8,164.5" fill="none" stroke="#000" stroke-width="2" stroke-linejoin="round" stroke-dasharray="4 1.5 2 1 6 2 3 1"/><g fill="none" stroke="#000" stroke-width="1.1" stroke-linejoin="round"><polyline points="153.0,142.9 161.8,143.9 160.7,150.4 157.5,156.8 165.0,158.9 169.3,164.3 175.7,165.4 182.1,163.2 185.4,170.7 192.9,170.7 191.8,162.1 189.6,155.7 191.8,152.5 198.2,153.6 201.4,149.3 206.8,150.4 212.1,151.4 216.4,148.2 220.7,150.4 227.1,148.2 234.6,146.1 237.9,140.7 242.1,139.6 248.6,143.9 255.0,145.0 260.4,148.2 261.4,157.9 270.0,164.3 275.0,166.0"/><polyline points="198.2,153.6 203.6,157.9 206.8,162.1 207.9,168.6 212.1,175.0 218.6,177.1 225.0,175.0 229.3,179.3 232.5,182.5 235.7,186.8 231.4,192.1 225.0,194.3 222.9,198.6 229.3,202.9 235.7,208.2 242.1,217.9 250.7,225.4 257.1,235.0 265.7,243.6 269.4,244.5 266.2,249.4 271.8,255.8 270.2,263.0 268.9,269.3"/><polyline points="268.9,269.3 269.4,274.3 271.8,282.3 269.4,290.3 269.0,296.4 261.0,299.6 253.0,303.7 248.2,307.7 251.4,312.5 248.2,315.7 238.6,319.0 231.3,324.5"/><polyline points="184.3,166.4 177.9,172.9 173.6,178.2 170.4,182.5 175.7,185.7 174.6,192.1 180.0,194.3 185.4,194.3 186.4,202.9 184.3,211.4 182.1,223.2 188.6,220.0 196.1,214.6 203.6,217.9 213.2,211.4 222.9,212.5 228.2,220.0 233.6,227.5 233.6,237.1 240.0,244.6 244.3,251.1 243.2,260.7 242.1,268.2 244.3,271.4"/><polyline points="153.0,188.5 162.9,183.6 170.4,182.5"/><polyline points="244.3,271.4 250.7,272.5 253.9,267.1 261.4,265.0 268.9,269.3"/><polyline points="244.3,271.4 235.7,268.2 222.9,267.1 212.1,268.2 205.7,273.6 201.4,280.0 201.4,290.7 202.0,298.2"/><polyline points="155.4,273.6 158.6,282.1 159.6,290.7 162.9,299.3 163.0,304.6 159.6,311.0 156.4,316.0 153.0,320.0"/><polyline points="171.7,375.8 178.1,378.2 182.9,381.4 183.7,387.0 191.8,385.4 196.6,381.4 199.8,381.4"/><polyline points="299.8,441.8 303.0,445.9 309.4,452.3 315.9,453.1 322.3,450.7 331.9,450.7 336.7,445.1 343.2,444.3 349.6,447.5 357.6,446.7 365.7,443.5 368.0,440.2 370.2,434.3 374.5,428.7 377.5,425.6 379.0,416.9 382.0,407.4 392.0,406.5 403.7,406.7 409.0,409.0"/><polyline points="362.4,404.0 366.0,411.0 369.0,405.0 368.0,400.0"/><polyline points="370.0,399.0 371.0,406.0 373.0,404.0 373.0,398.0"/><polyline points="248.6,258.6 249.0,272.0 250.0,285.0 250.7,295.0" stroke-dasharray="5 2 1 2"/></g><g stroke="#000" stroke-linecap="round"><line x1="564.8" y1="67.5" x2="572.5" y2="61.5" stroke-width="4.2"/><line x1="544.5" y1="95" x2="553" y2="88" stroke-width="3.6"/><line x1="491" y1="123.5" x2="498" y2="121" stroke-width="2.5"/><line x1="466.3" y1="173" x2="466" y2="178" stroke-width="1.6"/><line x1="466" y1="377" x2="462" y2="379.5" stroke-width="2.2"/><line x1="459.5" y1="381.5" x2="455.5" y2="384" stroke-width="2.4"/><line x1="453" y1="386" x2="450" y2="389" stroke-width="2.2"/><line x1="447.5" y1="390.5" x2="443" y2="394" stroke-width="2.4"/><line x1="440.5" y1="395.5" x2="437" y2="397.5" stroke-width="2.0"/><line x1="434" y1="399" x2="431.5" y2="400.5" stroke-width="1.8"/><line x1="456" y1="383.5" x2="452" y2="381" stroke-width="1.6"/><line x1="449" y1="380.5" x2="447" y2="380" stroke-width="2.0"/></g><g fill="#000"><rect x="386" y="39" width="3" height="2"/><rect x="425" y="43" width="3" height="2"/><rect x="433.5" y="136" width="2" height="4"/><rect x="434.5" y="139" width="2" height="2"/><rect x="490" y="121.5" width="9" height="3"/><rect x="496" y="120" width="3" height="2"/><rect x="503" y="118.5" width="2" height="2"/><rect x="510" y="117" width="4" height="2"/><rect x="480" y="123" width="2" height="1.5"/><rect x="488" y="102" width="3" height="1.5"/><rect x="466" y="174" width="1.5" height="5"/><rect x="465" y="181" width="3" height="3"/><rect x="461" y="159" width="1.5" height="1.5"/><rect x="459" y="149" width="1.5" height="1.5"/><rect x="459" y="197" width="3" height="2"/><rect x="465" y="202.5" width="3" height="3"/><rect x="456.5" y="201" width="2" height="2"/><rect x="439" y="299" width="5.5" height="4.5"/><rect x="440.5" y="297.5" width="3" height="2"/><rect x="441" y="303" width="3" height="1.5"/><rect x="436" y="305" width="3" height="8"/><rect x="451" y="310" width="2" height="2"/><rect x="453" y="314" width="2" height="2"/><rect x="454" y="334" width="2" height="2"/><rect x="452" y="338" width="2" height="2"/><rect x="460" y="373" width="3" height="2"/><rect x="454" y="383" width="3" height="2"/><rect x="448" y="380" width="2" height="2"/><rect x="451" y="389" width="2" height="2"/><rect x="443" y="393.5" width="3" height="2"/><rect x="456" y="383" width="2" height="2"/><rect x="448" y="379" width="3" height="2"/><rect x="452" y="388" width="2" height="2"/><rect x="442" y="394" width="2" height="2"/><rect x="432" y="399.5" width="2" height="2"/><rect x="437" y="397" width="2" height="2"/><rect x="400" y="354.5" width="2" height="3"/><rect x="402" y="352" width="2" height="2"/><rect x="419" y="369.5" width="3" height="2"/><rect x="398" y="366.5" width="4" height="2"/><rect x="514" y="414.5" width="2.5" height="7"/><rect x="513" y="427" width="2" height="2"/><rect x="512.5" y="433" width="2" height="2"/><rect x="531" y="410.5" width="3" height="3"/><rect x="532" y="404" width="2" height="3"/><rect x="536" y="401.5" width="2" height="2"/><rect x="253" y="420" width="4" height="4"/><rect x="246" y="424" width="4" height="3"/><rect x="225" y="427.5" width="2" height="2"/><rect x="229" y="431" width="2" height="2"/><rect x="254" y="420" width="4" height="4"/><rect x="288" y="424.5" width="2.5" height="3"/><rect x="284" y="429" width="2" height="2"/><rect x="291.5" y="430" width="3" height="1.5"/><rect x="276" y="400.5" width="2" height="1.5"/><rect x="270" y="450.5" width="3" height="2"/><rect x="264" y="456" width="3" height="2"/><rect x="255" y="451" width="2" height="2"/><rect x="260" y="447" width="2" height="2"/><rect x="516" y="327" width="3" height="8"/><rect x="520" y="330" width="2" height="4"/><rect x="231" y="302" width="2" height="2"/><rect x="243" y="299.5" width="2" height="2"/><rect x="305.5" y="136" width="18" height="1.5"/><rect x="313" y="137.5" width="6" height="1.5"/><rect x="571" y="43.5" width="2" height="2"/><rect x="564.5" y="51" width="2" height="2"/><rect x="573.5" y="40" width="1.5" height="2"/><rect x="561" y="56.5" width="2" height="1.5"/><rect x="556" y="78" width="3.5" height="1.5"/><rect x="538" y="96" width="3" height="2.5"/><rect x="531.5" y="94" width="2" height="2"/><rect x="535" y="91" width="2" height="2"/><rect x="541" y="93" width="2.5" height="3"/><rect x="442.7" y="271" width="2" height="2"/><rect x="444" y="275" width="2" height="3"/><rect x="441.5" y="266" width="2" height="2"/><rect x="463.5" y="259.5" width="3" height="2.5"/><rect x="468.5" y="262" width="2" height="2"/><rect x="465" y="266.5" width="3" height="2"/><rect x="467.5" y="270" width="3" height="2"/><rect x="461" y="287" width="2" height="2"/><rect x="481" y="285.7" width="3" height="2"/><rect x="484" y="288" width="2.5" height="2.5"/><rect x="492.2" y="284.6" width="4.5" height="4.5"/><rect x="467" y="293.6" width="2" height="5.5"/><rect x="449.5" y="308.2" width="2" height="2"/><rect x="452" y="311" width="2" height="2"/><rect x="499.5" y="304.9" width="3.5" height="3"/><rect x="474.3" y="317.4" width="3.5" height="3.5"/><rect x="498.2" y="305.2" width="3.5" height="3"/><rect x="501" y="317" width="2" height="2"/><rect x="502" y="321" width="2" height="2"/><rect x="514.5" y="322.5" width="2.5" height="10"/><rect x="522" y="328.6" width="1.5" height="5"/><rect x="502.8" y="338.7" width="2" height="2.5"/><rect x="488" y="339.5" width="2" height="2"/><rect x="456" y="333.5" width="1.5" height="1.5"/><rect x="474.3" y="294.5" width="2" height="2"/><rect x="466" y="282" width="1.5" height="1.5"/><rect x="446" y="280" width="3" height="1.5"/><rect x="455" y="280" width="3" height="1.5"/><rect x="487" y="316" width="2" height="1.5"/><rect x="479" y="307.5" width="3" height="1.5"/><rect x="512" y="334" width="3" height="2"/><rect x="506" y="326" width="3" height="2"/><rect x="497" y="327" width="2" height="1.5"/><rect x="476" y="269" width="2" height="2"/><rect x="472" y="283" width="2" height="2"/><rect x="486" y="292" width="2" height="2"/><rect x="490" y="291" width="2" height="2"/><rect x="510" y="293" width="3" height="1.5"/><rect x="514" y="309" width="2" height="3"/><rect x="214" y="446" width="4" height="3"/><rect x="218" y="449" width="5" height="3"/><rect x="223" y="447" width="4" height="3"/><rect x="227" y="449" width="3" height="4"/><rect x="221" y="452" width="4" height="3"/><rect x="225" y="455" width="4" height="4"/><rect x="230" y="452" width="3" height="3"/><rect x="217" y="455" width="3" height="3"/><rect x="220" y="459" width="4" height="3"/><rect x="226" y="460" width="3" height="3"/><rect x="231" y="457" width="2" height="3"/><rect x="212" y="452" width="3" height="2"/><rect x="208" y="456" width="3" height="2"/><rect x="205" y="459" width="3" height="2"/><rect x="228" y="444" width="3" height="2"/><rect x="237" y="312" width="1.5" height="9"/><rect x="238.5" y="318" width="2" height="4"/><rect x="246" y="327" width="4" height="1.5"/><rect x="250" y="330" width="4" height="1.5"/><rect x="254" y="333" width="3" height="1.5"/><rect x="249" y="324" width="1.5" height="4"/><rect x="256" y="327" width="2" height="3"/><rect x="252" y="334" width="2" height="2"/><rect x="408" y="405" width="3" height="3"/><rect x="405" y="410" width="3" height="4"/><rect x="409" y="413" width="2" height="3"/><rect x="404" y="417" width="3" height="2"/><rect x="413" y="400" width="2" height="2"/><rect x="409" y="432" width="2" height="3"/><rect x="413" y="437" width="2" height="2"/><rect x="398" y="367" width="4" height="2.5"/><rect x="402" y="364" width="2" height="2"/><rect x="309" y="176.5" width="2.5" height="3"/><rect x="351" y="144" width="4" height="9"/><rect x="355" y="150" width="5" height="4"/><rect x="347" y="156" width="3" height="2"/><rect x="343" y="159" width="2" height="2"/><rect x="336" y="161" width="2" height="2"/><rect x="258" y="173" width="9" height="3.5"/><rect x="267" y="171" width="3" height="3"/><rect x="156" y="358" width="2.5" height="3"/><rect x="159.5" y="375.5" width="2.5" height="2"/><rect x="164" y="377.5" width="2.5" height="2.5"/><rect x="161" y="371" width="1.5" height="1.5"/><rect x="157" y="368" width="2" height="2"/><rect x="214.3" y="314" width="3" height="6"/><rect x="449.8199612262196" y="76.99739800970607" width="1.2" height="1.2"/><rect x="408.8045400597084" y="127.07986310284635" width="1.2" height="2.0"/><rect x="457.58768950961223" y="64.16420702683641" width="2.4" height="1.2"/><rect x="457.5882514643792" y="68.75145644254806" width="1.2" height="2.0"/><rect x="462.0843189230975" y="52.48710686578827" width="1.2" height="2.0"/><rect x="431.88432690409485" y="105.41751295764308" width="1.6" height="1.2"/><rect x="433.9979904342601" y="100.9812803716415" width="2.4" height="1.2"/><rect x="436.7258793176147" y="99.80230845555727" width="1.6" height="1.2"/><rect x="433.7351407122136" y="106.50042000309908" width="2.0" height="1.2"/><rect x="434.69583659543775" y="100.32426729219107" width="1.2" height="2.0"/><rect x="460.0119600934958" y="64.98624632210664" width="2.4" height="1.6"/><rect x="439.19376553455544" y="88.29498723282046" width="2.0" height="1.6"/><rect x="455.55807208585156" y="68.54297267379519" width="1.6" height="1.2"/><rect x="434.964922333443" y="103.98428305853403" width="2.0" height="2.0"/><rect x="437.693682435004" y="91.35011083760654" width="1.2" height="1.2"/><rect x="436.1598484145743" y="94.67806103061017" width="2.0" height="1.2"/><rect x="398.0494444467682" y="138.97741321720272" width="1.2" height="2.0"/><rect x="436.35970787029055" y="104.21839709796353" width="2.0" height="1.6"/><rect x="423.2979195708091" y="117.4877896302923" width="2.4" height="1.2"/><rect x="409.34478631632976" y="130.59175378598343" width="2.4" height="2.0"/><rect x="424.4701303346425" y="112.99506089370485" width="2.0" height="2.0"/><rect x="434.01081260550706" y="106.06416714485832" width="2.4" height="1.6"/><rect x="420.6096452148518" y="121.62064025105965" width="2.0" height="1.2"/><rect x="397.0807492881437" y="139.38379264510007" width="1.2" height="1.6"/><rect x="463.58256987565704" y="47.27737276069671" width="1.6" height="2.0"/><rect x="455.90701592739725" y="68.54937424899943" width="2.4" height="1.2"/><rect x="463.0321704710373" y="60.38589051797671" width="2.0" height="1.2"/><rect x="411.018465607033" y="128.33083549431862" width="2.0" height="2.0"/><rect x="441.0469815691058" y="88.15739161106414" width="2.4" height="1.2"/><rect x="462.8033178400454" y="55.91341130219366" width="1.6" height="2.0"/><rect x="457.7681947231063" y="67.57961111340359" width="1.6" height="1.6"/><rect x="452.53284636466105" y="71.995818546897" width="2.0" height="2.0"/><rect x="437.3307550610038" y="103.83196625169676" width="1.2" height="1.6"/><rect x="402.1589680374045" y="136.44255520657063" width="2.4" height="1.6"/><rect x="442.99700425266377" y="85.02645701953475" width="2.4" height="1.2"/><rect x="462.3312442619308" y="64.22859825543959" width="2.4" height="1.2"/><rect x="463.34279318436313" y="51.859916617506705" width="1.2" height="1.2"/><rect x="435.3224914690182" y="102.99323838216336" width="2.0" height="2.0"/><rect x="359.6427871733298" y="155.42299713212148" width="2.4" height="1.2"/><rect x="348.7135930099651" y="159.02656680540744" width="2.0" height="1.6"/><rect x="352.3136612161943" y="152.66911155303768" width="2.4" height="1.6"/><rect x="352.65765398466846" y="151.50424529600934" width="1.2" height="2.0"/><rect x="352.99427067515154" y="144.8967393280813" width="1.6" height="2.0"/><rect x="359.95193194712556" y="155.8529567186241" width="2.0" height="1.2"/><rect x="346.4455108564383" y="160.14479960916503" width="2.0" height="2.0"/><rect x="338.73788436085255" y="164.11486783860673" width="2.0" height="2.0"/><rect x="352.701126103603" y="145.98874510953516" width="1.6" height="2.0"/><rect x="351.98874666048476" y="155.68851921142678" width="1.6" height="2.0"/><rect x="342.5102506185524" y="163.3602465127635" width="1.6" height="1.2"/><rect x="341.8350599083022" y="162.93550397730095" width="1.6" height="1.2"/><rect x="374.9956758609654" y="148.61906608883075" width="1.2" height="1.2"/><rect x="366.6294398813054" y="149.83007283629237" width="1.6" height="2.0"/><rect x="371.8742982553818" y="148.34200619460228" width="2.0" height="1.6"/><rect x="387.7084688278058" y="144.37559252735693" width="2.4" height="1.2"/><rect x="380.60525499900666" y="148.62563964186592" width="1.2" height="1.6"/><rect x="364.4569217568038" y="151.6961344842461" width="1.2" height="2.0"/><rect x="387.2060327594144" y="145.87105905489616" width="1.6" height="1.6"/><rect x="364.68811604725505" y="151.07905767081544" width="2.0" height="1.2"/><rect x="317.0408278057163" y="168.91314796215028" width="2.4" height="1.6"/><rect x="324.9265161069932" y="166.26050189723293" width="1.6" height="1.2"/><rect x="312.6506082193252" y="168.75320490643122" width="2.4" height="2.0"/><rect x="328.8730951936468" y="164.57181887765447" width="2.4" height="2.0"/><rect x="314.2061514849349" y="168.93356486319615" width="1.6" height="1.2"/><rect x="332.20401656239227" y="165.35157233551817" width="1.2" height="2.0"/></g></g><path d="M168.1,38v5M168.1,465v-5M195.3,38v5M195.3,465v-5M222.6,38v5M222.6,465v-5M249.8,38v5M249.8,465v-5M277.1,38v5M277.1,465v-5M304.4,38v5M304.4,465v-5M331.6,38v5M331.6,465v-5M358.9,38v5M358.9,465v-5M386.1,38v5M386.1,465v-5M413.4,38v5M413.4,465v-5M440.6,38v5M440.6,465v-5M467.9,38v5M467.9,465v-5M495.1,38v5M495.1,465v-5M522.4,38v5M522.4,465v-5M549.6,38v5M549.6,465v-5M155,438.5h5M575,438.5h-5M155,411.3h5M575,411.3h-5M155,383.9h5M575,383.9h-5M155,356.5h5M575,356.5h-5M155,328.9h5M575,328.9h-5M155,301.1h5M575,301.1h-5M155,273.1h5M575,273.1h-5M155,244.9h5M575,244.9h-5M155,216.4h5M575,216.4h-5M155,187.6h5M575,187.6h-5M155,158.4h5M575,158.4h-5M155,128.8h5M575,128.8h-5M155,98.8h5M575,98.8h-5M155,68.2h5M575,68.2h-5" stroke="#000" stroke-width="1" fill="none" shape-rendering="crispEdges"/><rect x="154" y="37" width="422" height="429" fill="none" stroke="#000" stroke-width="2" shape-rendering="crispEdges"/><rect x="245" y="524" width="241" height="13" fill="url(#cb)"/><rect x="245" y="524" width="2" height="13" fill="#000"/></svg><div class="t c" style="left:366px;top:8.4px;font-size:13px;">Significant Wave Height with Wave Direction</div><div class="t c i" style="left:366px;top:21.6px;font-size:12.15px;">Valid For May-05-2018 06:00 GMT</div><div class="t i" style="left:583.3px;top:33.2px;font-size:11px;">30 N</div><div class="t i" style="left:583.3px;top:110.5px;font-size:11px;">25 N</div><div class="t i" style="left:583.3px;top:183.5px;font-size:11px;">20 N</div><div class="t i" style="left:583.3px;top:254.3px;font-size:11px;">15 N</div><div class="t i" style="left:583.3px;top:324.3px;font-size:11px;">10 N</div><div class="t i" style="left:583.3px;top:392.4px;font-size:11px;">5 N</div><div class="t i" style="left:583.3px;top:461.0px;font-size:11px;">0</div><div class="t c i" style="left:171.4px;top:473.9px;font-size:11px;">100 E</div><div class="t c i" style="left:239.8px;top:473.9px;font-size:11px;">105 E</div><div class="t c i" style="left:307.8px;top:473.9px;font-size:11px;">110 E</div><div class="t c i" style="left:375.8px;top:473.9px;font-size:11px;">115 E</div><div class="t c i" style="left:443.90000000000003px;top:473.9px;font-size:11px;">120 E</div><div class="t c i" style="left:510.8px;top:473.9px;font-size:11px;">125 E</div><div class="t c i" style="left:579.3px;top:473.9px;font-size:11px;">130 E</div><div class="t " style="left:154.6px;top:487.5px;font-size:11.4px;">oceanweather inc.</div><div class="t i" style="left:457.3px;top:487.7px;font-size:7.55px;">Plotted at May 05, 2018 01:33 GMT</div><div class="t c" style="left:364.7px;top:500.8px;font-size:9.7px;">Significant Wave Height (Meters)</div><div class="t c" style="left:364.7px;top:548.8px;font-size:9.65px;">Significant Wave Height (Feet)</div><div class="t " style="left:242.7px;top:512.7px;font-size:9.5px;">0</div><div class="t " style="left:262.66999999999996px;top:512.7px;font-size:9.5px;">1</div><div class="t " style="left:282.64px;top:512.7px;font-size:9.5px;">2</div><div class="t " style="left:302.61px;top:512.7px;font-size:9.5px;">3</div><div class="t " style="left:322.58px;top:512.7px;font-size:9.5px;">4</div><div class="t " style="left:342.54999999999995px;top:512.7px;font-size:9.5px;">5</div><div class="t " style="left:362.52px;top:512.7px;font-size:9.5px;">6</div><div class="t " style="left:382.49px;top:512.7px;font-size:9.5px;">7</div><div class="t " style="left:402.46px;top:512.7px;font-size:9.5px;">8</div><div class="t " style="left:422.42999999999995px;top:512.7px;font-size:9.5px;">9</div><div class="t " style="left:442.4px;top:512.7px;font-size:9.5px;">10</div><div class="t " style="left:462.37px;top:512.7px;font-size:9.5px;">11</div><div class="t " style="left:482.34px;top:512.7px;font-size:9.5px;">12</div><div class="t " style="left:242.7px;top:536.7px;font-size:9.5px;">0</div><div class="t " style="left:272.65px;top:536.7px;font-size:9.5px;">5</div><div class="t " style="left:302.6px;top:536.7px;font-size:9.5px;">10</div><div class="t " style="left:332.55px;top:536.7px;font-size:9.5px;">15</div><div class="t " style="left:362.5px;top:536.7px;font-size:9.5px;">20</div><div class="t " style="left:392.45px;top:536.7px;font-size:9.5px;">25</div><div class="t " style="left:422.4px;top:536.7px;font-size:9.5px;">30</div><div class="t " style="left:452.35px;top:536.7px;font-size:9.5px;">35</div><div class="t " style="left:482.3px;top:536.7px;font-size:9.5px;">40</div></div></body></html>
